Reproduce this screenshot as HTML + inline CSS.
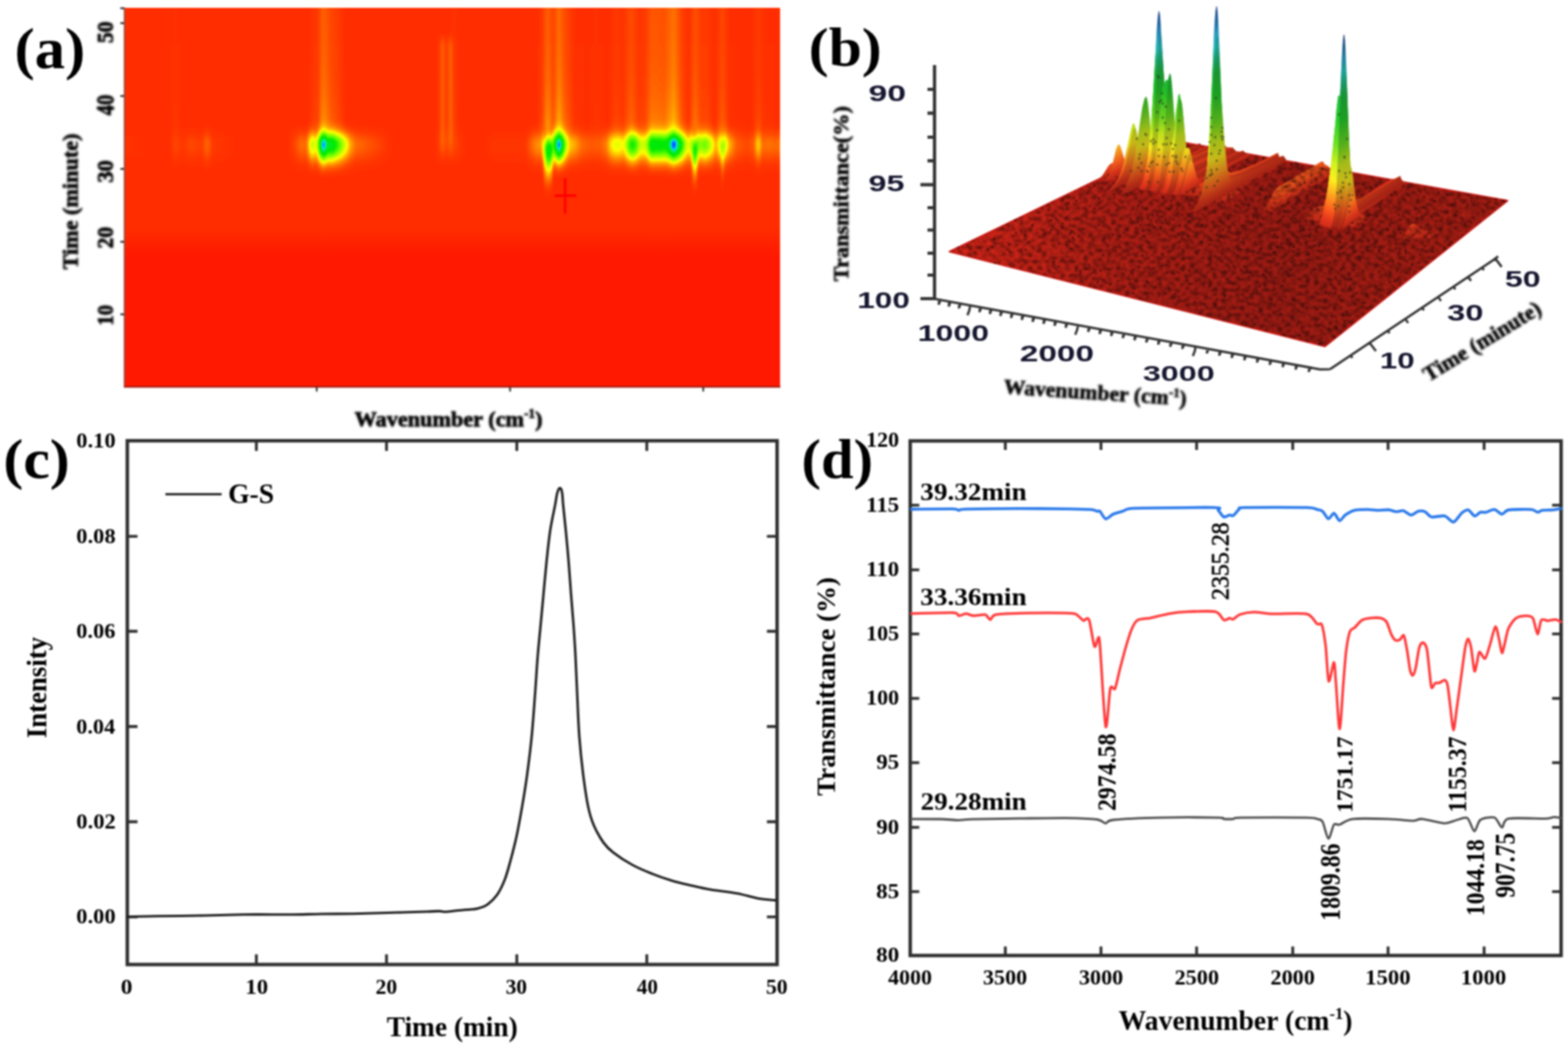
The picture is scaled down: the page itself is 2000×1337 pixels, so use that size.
<!DOCTYPE html>
<html lang="en"><head><meta charset="utf-8"><title>TG-FTIR figure</title>
<style>
html,body{margin:0;padding:0;background:#fff;}
body{width:2000px;height:1337px;overflow:hidden;}
svg{display:block;}
text{white-space:pre;}
</style></head>
<body>
<svg width="2000" height="1337" viewBox="0 0 2000 1337">
<defs><filter id="soft" filterUnits="userSpaceOnUse" x="0" y="0" width="2000" height="1337" color-interpolation-filters="sRGB"><feGaussianBlur stdDeviation="0.85"/></filter><filter id="soft2" x="-5%" y="-5%" width="110%" height="110%"><feGaussianBlur stdDeviation="0.8"/></filter></defs>
<rect width="2000" height="1337" fill="#fff"/>
<g filter="url(#soft)">
<rect width="2000" height="1337" fill="#fff"/>
<defs><linearGradient id="aR" gradientUnits="userSpaceOnUse" x1="159.0" y1="0" x2="995.0" y2="0"><stop offset="0.0013" stop-color="#010101"/><stop offset="0.0676" stop-color="#000000"/><stop offset="0.0688" stop-color="#000000"/><stop offset="0.0773" stop-color="#060606"/><stop offset="0.0881" stop-color="#020202"/><stop offset="0.1002" stop-color="#060606"/><stop offset="0.1170" stop-color="#040404"/><stop offset="0.1182" stop-color="#040404"/><stop offset="0.1255" stop-color="#0e0e0e"/><stop offset="0.1327" stop-color="#050505"/><stop offset="0.1339" stop-color="#030303"/><stop offset="0.1737" stop-color="#000000"/><stop offset="0.2484" stop-color="#000000"/><stop offset="0.2593" stop-color="#050505"/><stop offset="0.2689" stop-color="#0f0f0f"/><stop offset="0.2773" stop-color="#0d0d0d"/><stop offset="0.2858" stop-color="#444444"/><stop offset="0.2906" stop-color="#363636"/><stop offset="0.2918" stop-color="#353535"/><stop offset="0.2942" stop-color="#424242"/><stop offset="0.3026" stop-color="#e1e1e1"/><stop offset="0.3039" stop-color="#dfdfdf"/><stop offset="0.3099" stop-color="#9d9d9d"/><stop offset="0.3111" stop-color="#9a9a9a"/><stop offset="0.3171" stop-color="#9a9a9a"/><stop offset="0.3183" stop-color="#959595"/><stop offset="0.3256" stop-color="#6f6f6f"/><stop offset="0.3340" stop-color="#464646"/><stop offset="0.3364" stop-color="#3c3c3c"/><stop offset="0.3424" stop-color="#242424"/><stop offset="0.3436" stop-color="#1f1f1f"/><stop offset="0.3521" stop-color="#0f0f0f"/><stop offset="0.3774" stop-color="#080808"/><stop offset="0.4027" stop-color="#010101"/><stop offset="0.4147" stop-color="#000000"/><stop offset="0.4738" stop-color="#000000"/><stop offset="0.4847" stop-color="#040404"/><stop offset="0.4943" stop-color="#030303"/><stop offset="0.5003" stop-color="#040404"/><stop offset="0.5064" stop-color="#040404"/><stop offset="0.5112" stop-color="#020202"/><stop offset="0.5244" stop-color="#000000"/><stop offset="0.5473" stop-color="#000000"/><stop offset="0.5630" stop-color="#020202"/><stop offset="0.6112" stop-color="#020202"/><stop offset="0.6136" stop-color="#040404"/><stop offset="0.6281" stop-color="#161616"/><stop offset="0.6353" stop-color="#181818"/><stop offset="0.6377" stop-color="#2a2a2a"/><stop offset="0.6389" stop-color="#1e1e1e"/><stop offset="0.6401" stop-color="#010101"/><stop offset="0.6438" stop-color="#000000"/><stop offset="0.6510" stop-color="#000000"/><stop offset="0.6522" stop-color="#1f1f1f"/><stop offset="0.6534" stop-color="#525252"/><stop offset="0.6546" stop-color="#6d6d6d"/><stop offset="0.6570" stop-color="#8f8f8f"/><stop offset="0.6618" stop-color="#dfdfdf"/><stop offset="0.6630" stop-color="#e7e7e7"/><stop offset="0.6679" stop-color="#999999"/><stop offset="0.6715" stop-color="#606060"/><stop offset="0.6727" stop-color="#4e4e4e"/><stop offset="0.6775" stop-color="#2d2d2d"/><stop offset="0.6787" stop-color="#252525"/><stop offset="0.6872" stop-color="#1c1c1c"/><stop offset="0.6968" stop-color="#0f0f0f"/><stop offset="0.7004" stop-color="#0d0d0d"/><stop offset="0.7125" stop-color="#0a0a0a"/><stop offset="0.7257" stop-color="#0b0b0b"/><stop offset="0.7342" stop-color="#121212"/><stop offset="0.7354" stop-color="#141414"/><stop offset="0.7414" stop-color="#292929"/><stop offset="0.7426" stop-color="#2c2c2c"/><stop offset="0.7474" stop-color="#363636"/><stop offset="0.7486" stop-color="#373737"/><stop offset="0.7547" stop-color="#373737"/><stop offset="0.7583" stop-color="#323232"/><stop offset="0.7607" stop-color="#2f2f2f"/><stop offset="0.7619" stop-color="#313131"/><stop offset="0.7667" stop-color="#4f4f4f"/><stop offset="0.7703" stop-color="#6f6f6f"/><stop offset="0.7715" stop-color="#767676"/><stop offset="0.7751" stop-color="#808080"/><stop offset="0.7788" stop-color="#737373"/><stop offset="0.7800" stop-color="#6e6e6e"/><stop offset="0.7848" stop-color="#4a4a4a"/><stop offset="0.7860" stop-color="#454545"/><stop offset="0.7908" stop-color="#3d3d3d"/><stop offset="0.7920" stop-color="#3f3f3f"/><stop offset="0.7968" stop-color="#4a4a4a"/><stop offset="0.8005" stop-color="#737373"/><stop offset="0.8017" stop-color="#808080"/><stop offset="0.8041" stop-color="#989898"/><stop offset="0.8101" stop-color="#8f8f8f"/><stop offset="0.8161" stop-color="#8f8f8f"/><stop offset="0.8234" stop-color="#8a8a8a"/><stop offset="0.8246" stop-color="#8a8a8a"/><stop offset="0.8282" stop-color="#929292"/><stop offset="0.8294" stop-color="#9b9b9b"/><stop offset="0.8330" stop-color="#c1c1c1"/><stop offset="0.8378" stop-color="#efefef"/><stop offset="0.8426" stop-color="#c4c4c4"/><stop offset="0.8559" stop-color="#464646"/><stop offset="0.8595" stop-color="#383838"/><stop offset="0.8607" stop-color="#363636"/><stop offset="0.8643" stop-color="#454545"/><stop offset="0.8655" stop-color="#363636"/><stop offset="0.8667" stop-color="#1c1c1c"/><stop offset="0.8680" stop-color="#000000"/><stop offset="0.8716" stop-color="#000000"/><stop offset="0.8728" stop-color="#1d1d1d"/><stop offset="0.8740" stop-color="#424242"/><stop offset="0.8752" stop-color="#5e5e5e"/><stop offset="0.8776" stop-color="#505050"/><stop offset="0.8860" stop-color="#5d5d5d"/><stop offset="0.8872" stop-color="#5a5a5a"/><stop offset="0.8933" stop-color="#434343"/><stop offset="0.9017" stop-color="#1e1e1e"/><stop offset="0.9029" stop-color="#1f1f1f"/><stop offset="0.9077" stop-color="#363636"/><stop offset="0.9089" stop-color="#3d3d3d"/><stop offset="0.9101" stop-color="#363636"/><stop offset="0.9113" stop-color="#282828"/><stop offset="0.9125" stop-color="#1e1e1e"/><stop offset="0.9138" stop-color="#313131"/><stop offset="0.9150" stop-color="#404040"/><stop offset="0.9162" stop-color="#404040"/><stop offset="0.9222" stop-color="#202020"/><stop offset="0.9330" stop-color="#0c0c0c"/><stop offset="0.9342" stop-color="#0b0b0b"/><stop offset="0.9499" stop-color="#060606"/><stop offset="0.9596" stop-color="#0b0b0b"/><stop offset="0.9608" stop-color="#0f0f0f"/><stop offset="0.9668" stop-color="#2a2a2a"/><stop offset="0.9680" stop-color="#262626"/><stop offset="0.9728" stop-color="#0e0e0e"/><stop offset="0.9837" stop-color="#101010"/><stop offset="0.9945" stop-color="#0d0d0d"/><stop offset="1.0029" stop-color="#121212"/></linearGradient><linearGradient id="aE" gradientUnits="userSpaceOnUse" x1="159.0" y1="0" x2="995.0" y2="0"><stop offset="0.0013" stop-color="#000000"/><stop offset="0.6377" stop-color="#000000"/><stop offset="0.6389" stop-color="#181818"/><stop offset="0.6401" stop-color="#434343"/><stop offset="0.6413" stop-color="#505050"/><stop offset="0.6450" stop-color="#8f8f8f"/><stop offset="0.6462" stop-color="#9f9f9f"/><stop offset="0.6510" stop-color="#848484"/><stop offset="0.6522" stop-color="#5b5b5b"/><stop offset="0.6534" stop-color="#191919"/><stop offset="0.6546" stop-color="#000000"/><stop offset="0.8643" stop-color="#000000"/><stop offset="0.8655" stop-color="#1c1c1c"/><stop offset="0.8667" stop-color="#464646"/><stop offset="0.8680" stop-color="#737373"/><stop offset="0.8692" stop-color="#808080"/><stop offset="0.8704" stop-color="#868686"/><stop offset="0.8716" stop-color="#808080"/><stop offset="0.8728" stop-color="#5a5a5a"/><stop offset="0.8740" stop-color="#292929"/><stop offset="0.8752" stop-color="#000000"/><stop offset="0.9089" stop-color="#000000"/><stop offset="0.9101" stop-color="#101010"/><stop offset="0.9113" stop-color="#292929"/><stop offset="0.9125" stop-color="#3a3a3a"/><stop offset="0.9138" stop-color="#1e1e1e"/><stop offset="0.9150" stop-color="#060606"/><stop offset="0.9162" stop-color="#000000"/><stop offset="1.0029" stop-color="#000000"/></linearGradient><linearGradient id="aG" gradientUnits="userSpaceOnUse" x1="159.0" y1="0" x2="995.0" y2="0"><stop offset="0.0013" stop-color="#000000"/><stop offset="0.6377" stop-color="#000000"/><stop offset="0.6389" stop-color="#020202"/><stop offset="0.6401" stop-color="#080808"/><stop offset="0.6450" stop-color="#101010"/><stop offset="0.6462" stop-color="#101010"/><stop offset="0.6510" stop-color="#090909"/><stop offset="0.6534" stop-color="#010101"/><stop offset="0.6546" stop-color="#000000"/><stop offset="0.8643" stop-color="#000000"/><stop offset="0.8655" stop-color="#020202"/><stop offset="0.8680" stop-color="#080808"/><stop offset="0.8692" stop-color="#090909"/><stop offset="0.8704" stop-color="#0a0a0a"/><stop offset="0.8716" stop-color="#080808"/><stop offset="0.8740" stop-color="#020202"/><stop offset="0.8752" stop-color="#000000"/><stop offset="0.9089" stop-color="#000000"/><stop offset="0.9101" stop-color="#010101"/><stop offset="0.9125" stop-color="#040404"/><stop offset="0.9150" stop-color="#000000"/><stop offset="1.0029" stop-color="#000000"/></linearGradient><linearGradient id="aL" gradientUnits="userSpaceOnUse" x1="159.0" y1="0" x2="995.0" y2="0"><stop offset="0.0025" stop-color="#000000"/><stop offset="0.0676" stop-color="#000000"/><stop offset="0.0773" stop-color="#020202"/><stop offset="0.0881" stop-color="#000000"/><stop offset="0.2797" stop-color="#000000"/><stop offset="0.2900" stop-color="#050505"/><stop offset="0.2942" stop-color="#050505"/><stop offset="0.3030" stop-color="#1a1a1a"/><stop offset="0.3145" stop-color="#0d0d0d"/><stop offset="0.3289" stop-color="#050505"/><stop offset="0.3376" stop-color="#000000"/><stop offset="0.4955" stop-color="#000000"/><stop offset="0.4991" stop-color="#020202"/><stop offset="0.5051" stop-color="#020202"/><stop offset="0.5078" stop-color="#000000"/><stop offset="0.6281" stop-color="#000000"/><stop offset="0.6365" stop-color="#050505"/><stop offset="0.6454" stop-color="#1a1a1a"/><stop offset="0.6540" stop-color="#0a0a0a"/><stop offset="0.6627" stop-color="#202020"/><stop offset="0.6714" stop-color="#0f0f0f"/><stop offset="0.6858" stop-color="#020202"/><stop offset="0.7060" stop-color="#000000"/><stop offset="0.7197" stop-color="#020202"/><stop offset="0.7378" stop-color="#000000"/><stop offset="0.7492" stop-color="#060606"/><stop offset="0.7607" stop-color="#030303"/><stop offset="0.7724" stop-color="#0f0f0f"/><stop offset="0.7836" stop-color="#050505"/><stop offset="0.7939" stop-color="#060606"/><stop offset="0.8041" stop-color="#151515"/><stop offset="0.8243" stop-color="#121212"/><stop offset="0.8378" stop-color="#232323"/><stop offset="0.8502" stop-color="#0a0a0a"/><stop offset="0.8604" stop-color="#010101"/><stop offset="0.8704" stop-color="#121212"/><stop offset="0.8790" stop-color="#070707"/><stop offset="0.8877" stop-color="#070707"/><stop offset="0.9007" stop-color="#000000"/><stop offset="0.9123" stop-color="#0d0d0d"/><stop offset="0.9222" stop-color="#010101"/><stop offset="0.9570" stop-color="#000000"/><stop offset="0.9670" stop-color="#070707"/><stop offset="0.9743" stop-color="#020202"/><stop offset="0.9887" stop-color="#010101"/><stop offset="1.0032" stop-color="#000000"/></linearGradient><linearGradient id="aC" gradientUnits="userSpaceOnUse" x1="159.0" y1="0" x2="995.0" y2="0"><stop offset="0.0013" stop-color="#000000"/><stop offset="0.4702" stop-color="#000000"/><stop offset="0.4774" stop-color="#010101"/><stop offset="0.4786" stop-color="#020202"/><stop offset="0.4798" stop-color="#020202"/><stop offset="0.4810" stop-color="#040404"/><stop offset="0.4834" stop-color="#0b0b0b"/><stop offset="0.4847" stop-color="#0c0c0c"/><stop offset="0.4859" stop-color="#0b0b0b"/><stop offset="0.4871" stop-color="#080808"/><stop offset="0.4883" stop-color="#060606"/><stop offset="0.4895" stop-color="#050505"/><stop offset="0.4919" stop-color="#050505"/><stop offset="0.4931" stop-color="#060606"/><stop offset="0.4943" stop-color="#070707"/><stop offset="0.4967" stop-color="#0c0c0c"/><stop offset="0.4979" stop-color="#0c0c0c"/><stop offset="0.4991" stop-color="#090909"/><stop offset="0.5003" stop-color="#060606"/><stop offset="0.5015" stop-color="#030303"/><stop offset="0.5027" stop-color="#020202"/><stop offset="0.5064" stop-color="#010101"/><stop offset="0.5160" stop-color="#000000"/><stop offset="1.0029" stop-color="#000000"/></linearGradient><linearGradient id="wR" gradientUnits="userSpaceOnUse" x1="0" y1="10.0" x2="0" y2="493.0"><stop offset="0.0000" stop-color="#000" stop-opacity="1.000"/><stop offset="0.2940" stop-color="#000" stop-opacity="1.000"/><stop offset="0.3002" stop-color="#000" stop-opacity="0.992"/><stop offset="0.3064" stop-color="#000" stop-opacity="0.974"/><stop offset="0.3106" stop-color="#000" stop-opacity="0.953"/><stop offset="0.3147" stop-color="#000" stop-opacity="0.921"/><stop offset="0.3168" stop-color="#000" stop-opacity="0.901"/><stop offset="0.3188" stop-color="#000" stop-opacity="0.877"/><stop offset="0.3209" stop-color="#000" stop-opacity="0.849"/><stop offset="0.3230" stop-color="#000" stop-opacity="0.816"/><stop offset="0.3251" stop-color="#000" stop-opacity="0.780"/><stop offset="0.3271" stop-color="#000" stop-opacity="0.738"/><stop offset="0.3292" stop-color="#000" stop-opacity="0.693"/><stop offset="0.3313" stop-color="#000" stop-opacity="0.643"/><stop offset="0.3333" stop-color="#000" stop-opacity="0.590"/><stop offset="0.3375" stop-color="#000" stop-opacity="0.474"/><stop offset="0.3437" stop-color="#000" stop-opacity="0.294"/><stop offset="0.3458" stop-color="#000" stop-opacity="0.236"/><stop offset="0.3478" stop-color="#000" stop-opacity="0.182"/><stop offset="0.3499" stop-color="#000" stop-opacity="0.133"/><stop offset="0.3520" stop-color="#000" stop-opacity="0.090"/><stop offset="0.3540" stop-color="#000" stop-opacity="0.054"/><stop offset="0.3561" stop-color="#000" stop-opacity="0.027"/><stop offset="0.3582" stop-color="#000" stop-opacity="0.009"/><stop offset="0.3602" stop-color="#000" stop-opacity="0.001"/><stop offset="0.3623" stop-color="#000" stop-opacity="0.001"/><stop offset="0.3644" stop-color="#000" stop-opacity="0.008"/><stop offset="0.3665" stop-color="#000" stop-opacity="0.019"/><stop offset="0.3685" stop-color="#000" stop-opacity="0.036"/><stop offset="0.3706" stop-color="#000" stop-opacity="0.058"/><stop offset="0.3727" stop-color="#000" stop-opacity="0.085"/><stop offset="0.3747" stop-color="#000" stop-opacity="0.115"/><stop offset="0.3768" stop-color="#000" stop-opacity="0.150"/><stop offset="0.3810" stop-color="#000" stop-opacity="0.227"/><stop offset="0.3872" stop-color="#000" stop-opacity="0.358"/><stop offset="0.3954" stop-color="#000" stop-opacity="0.537"/><stop offset="0.3996" stop-color="#000" stop-opacity="0.620"/><stop offset="0.4037" stop-color="#000" stop-opacity="0.695"/><stop offset="0.4079" stop-color="#000" stop-opacity="0.761"/><stop offset="0.4120" stop-color="#000" stop-opacity="0.817"/><stop offset="0.4161" stop-color="#000" stop-opacity="0.863"/><stop offset="0.4203" stop-color="#000" stop-opacity="0.901"/><stop offset="0.4244" stop-color="#000" stop-opacity="0.930"/><stop offset="0.4286" stop-color="#000" stop-opacity="0.952"/><stop offset="0.4348" stop-color="#000" stop-opacity="0.975"/><stop offset="0.4410" stop-color="#000" stop-opacity="0.989"/><stop offset="0.4493" stop-color="#000" stop-opacity="0.999"/><stop offset="1.0000" stop-color="#000" stop-opacity="1.000"/></linearGradient><linearGradient id="wE" gradientUnits="userSpaceOnUse" x1="0" y1="10.0" x2="0" y2="493.0"><stop offset="0.0000" stop-color="#000" stop-opacity="1.000"/><stop offset="0.3064" stop-color="#000" stop-opacity="0.999"/><stop offset="0.3126" stop-color="#000" stop-opacity="0.990"/><stop offset="0.3168" stop-color="#000" stop-opacity="0.978"/><stop offset="0.3209" stop-color="#000" stop-opacity="0.960"/><stop offset="0.3251" stop-color="#000" stop-opacity="0.932"/><stop offset="0.3271" stop-color="#000" stop-opacity="0.914"/><stop offset="0.3292" stop-color="#000" stop-opacity="0.893"/><stop offset="0.3313" stop-color="#000" stop-opacity="0.868"/><stop offset="0.3333" stop-color="#000" stop-opacity="0.839"/><stop offset="0.3354" stop-color="#000" stop-opacity="0.806"/><stop offset="0.3375" stop-color="#000" stop-opacity="0.769"/><stop offset="0.3395" stop-color="#000" stop-opacity="0.727"/><stop offset="0.3416" stop-color="#000" stop-opacity="0.682"/><stop offset="0.3437" stop-color="#000" stop-opacity="0.632"/><stop offset="0.3478" stop-color="#000" stop-opacity="0.523"/><stop offset="0.3561" stop-color="#000" stop-opacity="0.287"/><stop offset="0.3582" stop-color="#000" stop-opacity="0.231"/><stop offset="0.3602" stop-color="#000" stop-opacity="0.178"/><stop offset="0.3623" stop-color="#000" stop-opacity="0.130"/><stop offset="0.3644" stop-color="#000" stop-opacity="0.088"/><stop offset="0.3665" stop-color="#000" stop-opacity="0.054"/><stop offset="0.3685" stop-color="#000" stop-opacity="0.027"/><stop offset="0.3706" stop-color="#000" stop-opacity="0.009"/><stop offset="0.3727" stop-color="#000" stop-opacity="0.001"/><stop offset="0.3747" stop-color="#000" stop-opacity="0.001"/><stop offset="0.3768" stop-color="#000" stop-opacity="0.005"/><stop offset="0.3789" stop-color="#000" stop-opacity="0.014"/><stop offset="0.3810" stop-color="#000" stop-opacity="0.026"/><stop offset="0.3830" stop-color="#000" stop-opacity="0.042"/><stop offset="0.3851" stop-color="#000" stop-opacity="0.061"/><stop offset="0.3872" stop-color="#000" stop-opacity="0.084"/><stop offset="0.3913" stop-color="#000" stop-opacity="0.139"/><stop offset="0.3954" stop-color="#000" stop-opacity="0.203"/><stop offset="0.4017" stop-color="#000" stop-opacity="0.311"/><stop offset="0.4141" stop-color="#000" stop-opacity="0.540"/><stop offset="0.4203" stop-color="#000" stop-opacity="0.644"/><stop offset="0.4244" stop-color="#000" stop-opacity="0.706"/><stop offset="0.4286" stop-color="#000" stop-opacity="0.762"/><stop offset="0.4327" stop-color="#000" stop-opacity="0.810"/><stop offset="0.4369" stop-color="#000" stop-opacity="0.852"/><stop offset="0.4410" stop-color="#000" stop-opacity="0.886"/><stop offset="0.4472" stop-color="#000" stop-opacity="0.926"/><stop offset="0.4534" stop-color="#000" stop-opacity="0.955"/><stop offset="0.4596" stop-color="#000" stop-opacity="0.974"/><stop offset="0.4679" stop-color="#000" stop-opacity="0.990"/><stop offset="0.4783" stop-color="#000" stop-opacity="1.000"/><stop offset="1.0000" stop-color="#000" stop-opacity="1.000"/></linearGradient><linearGradient id="wG" gradientUnits="userSpaceOnUse" x1="0" y1="10.0" x2="0" y2="493.0"><stop offset="0.0000" stop-color="#000" stop-opacity="1.000"/><stop offset="0.3458" stop-color="#000" stop-opacity="0.999"/><stop offset="0.3561" stop-color="#000" stop-opacity="0.986"/><stop offset="0.3623" stop-color="#000" stop-opacity="0.971"/><stop offset="0.3685" stop-color="#000" stop-opacity="0.946"/><stop offset="0.3727" stop-color="#000" stop-opacity="0.922"/><stop offset="0.3768" stop-color="#000" stop-opacity="0.891"/><stop offset="0.3810" stop-color="#000" stop-opacity="0.853"/><stop offset="0.3851" stop-color="#000" stop-opacity="0.806"/><stop offset="0.3892" stop-color="#000" stop-opacity="0.750"/><stop offset="0.3934" stop-color="#000" stop-opacity="0.685"/><stop offset="0.3975" stop-color="#000" stop-opacity="0.611"/><stop offset="0.4037" stop-color="#000" stop-opacity="0.488"/><stop offset="0.4141" stop-color="#000" stop-opacity="0.272"/><stop offset="0.4182" stop-color="#000" stop-opacity="0.192"/><stop offset="0.4224" stop-color="#000" stop-opacity="0.122"/><stop offset="0.4244" stop-color="#000" stop-opacity="0.091"/><stop offset="0.4265" stop-color="#000" stop-opacity="0.065"/><stop offset="0.4286" stop-color="#000" stop-opacity="0.042"/><stop offset="0.4306" stop-color="#000" stop-opacity="0.024"/><stop offset="0.4327" stop-color="#000" stop-opacity="0.011"/><stop offset="0.4348" stop-color="#000" stop-opacity="0.003"/><stop offset="0.4369" stop-color="#000" stop-opacity="0.000"/><stop offset="0.4389" stop-color="#000" stop-opacity="0.003"/><stop offset="0.4410" stop-color="#000" stop-opacity="0.013"/><stop offset="0.4431" stop-color="#000" stop-opacity="0.029"/><stop offset="0.4451" stop-color="#000" stop-opacity="0.052"/><stop offset="0.4472" stop-color="#000" stop-opacity="0.080"/><stop offset="0.4493" stop-color="#000" stop-opacity="0.114"/><stop offset="0.4513" stop-color="#000" stop-opacity="0.152"/><stop offset="0.4534" stop-color="#000" stop-opacity="0.194"/><stop offset="0.4576" stop-color="#000" stop-opacity="0.288"/><stop offset="0.4679" stop-color="#000" stop-opacity="0.536"/><stop offset="0.4720" stop-color="#000" stop-opacity="0.628"/><stop offset="0.4762" stop-color="#000" stop-opacity="0.710"/><stop offset="0.4783" stop-color="#000" stop-opacity="0.747"/><stop offset="0.4803" stop-color="#000" stop-opacity="0.781"/><stop offset="0.4824" stop-color="#000" stop-opacity="0.812"/><stop offset="0.4865" stop-color="#000" stop-opacity="0.864"/><stop offset="0.4907" stop-color="#000" stop-opacity="0.905"/><stop offset="0.4948" stop-color="#000" stop-opacity="0.936"/><stop offset="0.4990" stop-color="#000" stop-opacity="0.959"/><stop offset="0.5052" stop-color="#000" stop-opacity="0.981"/><stop offset="0.5114" stop-color="#000" stop-opacity="0.994"/><stop offset="0.5176" stop-color="#000" stop-opacity="1.000"/><stop offset="1.0000" stop-color="#000" stop-opacity="1.000"/></linearGradient><linearGradient id="wL" gradientUnits="userSpaceOnUse" x1="0" y1="10.0" x2="0" y2="493.0"><stop offset="0.0000" stop-color="#000" stop-opacity="0.539"/><stop offset="0.0600" stop-color="#000" stop-opacity="0.520"/><stop offset="0.1056" stop-color="#000" stop-opacity="0.496"/><stop offset="0.1429" stop-color="#000" stop-opacity="0.465"/><stop offset="0.1739" stop-color="#000" stop-opacity="0.429"/><stop offset="0.2008" stop-color="#000" stop-opacity="0.387"/><stop offset="0.2236" stop-color="#000" stop-opacity="0.341"/><stop offset="0.2443" stop-color="#000" stop-opacity="0.288"/><stop offset="0.2629" stop-color="#000" stop-opacity="0.230"/><stop offset="0.2795" stop-color="#000" stop-opacity="0.168"/><stop offset="0.2940" stop-color="#000" stop-opacity="0.104"/><stop offset="0.3023" stop-color="#000" stop-opacity="0.065"/><stop offset="0.3043" stop-color="#000" stop-opacity="0.062"/><stop offset="0.3064" stop-color="#000" stop-opacity="0.063"/><stop offset="0.3085" stop-color="#000" stop-opacity="0.069"/><stop offset="0.3106" stop-color="#000" stop-opacity="0.083"/><stop offset="0.3126" stop-color="#000" stop-opacity="0.108"/><stop offset="0.3147" stop-color="#000" stop-opacity="0.137"/><stop offset="0.3188" stop-color="#000" stop-opacity="0.204"/><stop offset="0.3230" stop-color="#000" stop-opacity="0.281"/><stop offset="0.3292" stop-color="#000" stop-opacity="0.409"/><stop offset="0.3416" stop-color="#000" stop-opacity="0.678"/><stop offset="0.3458" stop-color="#000" stop-opacity="0.761"/><stop offset="0.3499" stop-color="#000" stop-opacity="0.836"/><stop offset="0.3540" stop-color="#000" stop-opacity="0.901"/><stop offset="0.3561" stop-color="#000" stop-opacity="0.929"/><stop offset="0.3582" stop-color="#000" stop-opacity="0.953"/><stop offset="0.3602" stop-color="#000" stop-opacity="0.973"/><stop offset="0.3623" stop-color="#000" stop-opacity="0.988"/><stop offset="0.3644" stop-color="#000" stop-opacity="0.999"/><stop offset="1.0000" stop-color="#000" stop-opacity="1.000"/></linearGradient><linearGradient id="wC" gradientUnits="userSpaceOnUse" x1="0" y1="10.0" x2="0" y2="493.0"><stop offset="0.0000" stop-color="#000" stop-opacity="1.000"/><stop offset="0.0600" stop-color="#000" stop-opacity="1.000"/><stop offset="0.0621" stop-color="#000" stop-opacity="0.998"/><stop offset="0.0642" stop-color="#000" stop-opacity="0.981"/><stop offset="0.0663" stop-color="#000" stop-opacity="0.954"/><stop offset="0.0683" stop-color="#000" stop-opacity="0.919"/><stop offset="0.0704" stop-color="#000" stop-opacity="0.878"/><stop offset="0.0725" stop-color="#000" stop-opacity="0.830"/><stop offset="0.0745" stop-color="#000" stop-opacity="0.776"/><stop offset="0.0766" stop-color="#000" stop-opacity="0.719"/><stop offset="0.0807" stop-color="#000" stop-opacity="0.595"/><stop offset="0.0890" stop-color="#000" stop-opacity="0.339"/><stop offset="0.0911" stop-color="#000" stop-opacity="0.278"/><stop offset="0.0932" stop-color="#000" stop-opacity="0.221"/><stop offset="0.0952" stop-color="#000" stop-opacity="0.169"/><stop offset="0.0973" stop-color="#000" stop-opacity="0.122"/><stop offset="0.0994" stop-color="#000" stop-opacity="0.081"/><stop offset="0.1014" stop-color="#000" stop-opacity="0.047"/><stop offset="0.1035" stop-color="#000" stop-opacity="0.022"/><stop offset="0.1056" stop-color="#000" stop-opacity="0.006"/><stop offset="0.1077" stop-color="#000" stop-opacity="0.000"/><stop offset="0.3292" stop-color="#000" stop-opacity="0.000"/><stop offset="0.3313" stop-color="#000" stop-opacity="0.002"/><stop offset="0.3333" stop-color="#000" stop-opacity="0.007"/><stop offset="0.3375" stop-color="#000" stop-opacity="0.026"/><stop offset="0.3416" stop-color="#000" stop-opacity="0.056"/><stop offset="0.3458" stop-color="#000" stop-opacity="0.096"/><stop offset="0.3499" stop-color="#000" stop-opacity="0.145"/><stop offset="0.3540" stop-color="#000" stop-opacity="0.201"/><stop offset="0.3602" stop-color="#000" stop-opacity="0.295"/><stop offset="0.3685" stop-color="#000" stop-opacity="0.434"/><stop offset="0.3810" stop-color="#000" stop-opacity="0.648"/><stop offset="0.3872" stop-color="#000" stop-opacity="0.748"/><stop offset="0.3934" stop-color="#000" stop-opacity="0.838"/><stop offset="0.3975" stop-color="#000" stop-opacity="0.890"/><stop offset="0.4017" stop-color="#000" stop-opacity="0.934"/><stop offset="0.4058" stop-color="#000" stop-opacity="0.969"/><stop offset="0.4099" stop-color="#000" stop-opacity="0.993"/><stop offset="0.4120" stop-color="#000" stop-opacity="1.000"/><stop offset="1.0000" stop-color="#000" stop-opacity="1.000"/></linearGradient><linearGradient id="aB" gradientUnits="userSpaceOnUse" x1="0" y1="10.0" x2="0" y2="493.0"><stop offset="0.0000" stop-color="rgb(0,45,0)"/><stop offset="0.5756" stop-color="rgb(0,45,0)"/><stop offset="0.5880" stop-color="rgb(0,44,0)"/><stop offset="0.6046" stop-color="rgb(0,39,0)"/><stop offset="0.6398" stop-color="rgb(0,29,0)"/><stop offset="0.6542" stop-color="rgb(0,26,0)"/><stop offset="0.6667" stop-color="rgb(0,25,0)"/><stop offset="1.0000" stop-color="rgb(0,25,0)"/></linearGradient><filter id="cm" filterUnits="userSpaceOnUse" x="159.0" y="10.0" width="836.0" height="483.0" color-interpolation-filters="sRGB"><feGaussianBlur stdDeviation="1.1 0.5" result="b"/><feComponentTransfer in="b"><feFuncR type="table" tableValues="1 1 1 1 1 1 1 1 1 1 1 1 1 1 1 1 1 1 1 1 1 1 1 1 1 0.984 0.958 0.931 0.905 0.878 0.852 0.825 0.799 0.772 0.745 0.719 0.692 0.666 0.639 0.613 0.586 0.559 0.533 0.506 0.48 0.456 0.434 0.412 0.391 0.369 0.347 0.326 0.304 0.282 0.261 0.239 0.218 0.196 0.174 0.153 0.131 0.109 0.088 0.066 0.054 0.042 0.03 0.018 0.006 0 0 0 0 0 0 0 0 0 0 0 0 0 0 0 0 0 0 0 0 0 0 0 0 0 0 0 0 0 0 0 0 0 0 0 0 0 0 0 0 0 0 0 0 0 0 0 0 0 0 0 0 0 0 0 0 0 0 0 0"/><feFuncG type="table" tableValues="0 0.034 0.067 0.101 0.135 0.168 0.202 0.236 0.269 0.303 0.337 0.37 0.404 0.437 0.471 0.505 0.538 0.572 0.606 0.639 0.673 0.707 0.74 0.774 0.808 0.822 0.822 0.822 0.822 0.822 0.822 0.822 0.822 0.822 0.822 0.822 0.822 0.822 0.822 0.822 0.822 0.822 0.822 0.822 0.822 0.822 0.822 0.821 0.817 0.812 0.808 0.804 0.8 0.796 0.792 0.788 0.783 0.779 0.775 0.771 0.767 0.763 0.758 0.754 0.752 0.75 0.747 0.745 0.743 0.742 0.742 0.742 0.742 0.742 0.742 0.742 0.742 0.742 0.742 0.742 0.742 0.742 0.742 0.742 0.742 0.742 0.742 0.742 0.742 0.742 0.742 0.742 0.742 0.742 0.742 0.742 0.742 0.742 0.742 0.742 0.742 0.734 0.67 0.616 0.566 0.517 0.467 0.417 0.368 0.318 0.268 0.234 0.207 0.18 0.153 0.127 0.1 0.073 0.047 0.029 0.018 0.006 0 0 0 0 0 0 0"/><feFuncB type="table" tableValues="0 0 0 0 0 0 0 0 0 0 0 0 0 0 0 0 0 0 0 0 0 0 0 0 0 0 0 0 0 0 0 0 0 0 0 0 0 0 0 0 0 0 0 0 0 0 0 0 0 0 0 0 0 0 0 0 0 0 0 0 0 0 0 0 0 0 0 0 0 0.006 0.018 0.03 0.042 0.054 0.066 0.078 0.09 0.102 0.114 0.134 0.156 0.177 0.199 0.221 0.243 0.265 0.287 0.309 0.331 0.353 0.375 0.396 0.418 0.455 0.525 0.594 0.663 0.732 0.801 0.87 0.94 1 1 1 1 1 1 1 1 1 1 1 1 1 1 1 1 1 1 1 1 1 1 1 1 1 1 1 1"/><feFuncA type="linear" slope="0" intercept="1"/></feComponentTransfer></filter></defs>
<rect x="159.0" y="10.0" width="836.0" height="483.0" fill="#ff2600"/>
<g style="isolation:isolate"><g filter="url(#cm)" style="isolation:isolate"><rect x="153.0" y="4.0" width="848.0" height="495.0" fill="#000"/><g style="mix-blend-mode:plus-lighter"><rect x="153.0" y="4.0" width="848.0" height="495.0" fill="url(#aR)"/><rect x="153.0" y="4.0" width="848.0" height="495.0" fill="url(#wR)"/></g><g style="mix-blend-mode:plus-lighter"><rect x="153.0" y="4.0" width="848.0" height="495.0" fill="url(#aE)"/><rect x="153.0" y="4.0" width="848.0" height="495.0" fill="url(#wE)"/></g><g style="mix-blend-mode:plus-lighter"><rect x="153.0" y="4.0" width="848.0" height="495.0" fill="url(#aG)"/><rect x="153.0" y="4.0" width="848.0" height="495.0" fill="url(#wG)"/></g><g style="mix-blend-mode:plus-lighter"><rect x="153.0" y="4.0" width="848.0" height="495.0" fill="url(#aL)"/><rect x="153.0" y="4.0" width="848.0" height="495.0" fill="url(#wL)"/></g><g style="mix-blend-mode:plus-lighter"><rect x="153.0" y="4.0" width="848.0" height="495.0" fill="url(#aC)"/><rect x="153.0" y="4.0" width="848.0" height="495.0" fill="url(#wC)"/></g></g><rect x="159.0" y="10.0" width="836.0" height="483.0" fill="url(#aB)" style="mix-blend-mode:plus-lighter"/></g>
<path d="M720.8 227.5V272.5M707.5 249.6H735" stroke="#ff0000" stroke-width="3.2" fill="none"/>
<path d="M158.6 9.5V493.5" stroke="#8a5a50" stroke-width="1.6" fill="none"/>
<path d="M158 493.4H995.4" stroke="#a01408" stroke-width="2" fill="none"/>
<path d="M153.5 10.5H158.5M153.5 29.5H158.5M153.5 122.5H158.5M153.5 215.5H158.5M153.5 308.5H158.5M153.5 401H158.5M404 494V499.5M650.6 494V499.5M897 494V499.5" stroke="#3a3a3a" stroke-width="2.3" fill="none"/>
<g filter="url(#soft2)" stroke="#000" stroke-width="3.2" stroke-linejoin="round">
<text transform="matrix(0.0000 -0.2774 0.2985 0.0000 144.30 55.01)" font-family='"Liberation Serif", serif' font-weight="bold" font-size="100" fill="#000">50</text>
<text transform="matrix(0.0000 -0.2635 0.3059 0.0000 144.79 147.16)" font-family='"Liberation Serif", serif' font-weight="bold" font-size="100" fill="#000">40</text>
<text transform="matrix(0.0000 -0.2883 0.2838 0.0000 144.33 233.06)" font-family='"Liberation Serif", serif' font-weight="bold" font-size="100" fill="#000">30</text>
<text transform="matrix(0.0000 -0.2774 0.2838 0.0000 144.33 317.01)" font-family='"Liberation Serif", serif' font-weight="bold" font-size="100" fill="#000">20</text>
<text transform="matrix(0.0000 -0.2674 0.2838 0.0000 144.33 415.54)" font-family='"Liberation Serif", serif' font-weight="bold" font-size="100" fill="#000">10</text>
<text transform="matrix(0.0000 -0.2832 0.2641 0.0000 99.09 343.68)" font-family='"Liberation Serif", serif' font-weight="bold" font-size="100" fill="#000">Time (minute)</text>
<text transform="translate(452.32 544.20) rotate(0) scale(0.2836)" font-family='"Liberation Serif", serif' font-weight="bold" font-size="100" fill="#000">Wavenumber (cm<tspan font-size="60" dy="-38">-1</tspan><tspan dy="38">)</tspan></text>
</g>
<text transform="matrix(0.7738 0.0000 0.0000 0.7304 18.50 87.33)" font-family='"Liberation Serif", serif' font-weight="bold" font-size="100" fill="#000">(a)</text>
<defs><linearGradient id="g3" gradientUnits="userSpaceOnUse" x1="0" y1="0" x2="0" y2="160"><stop offset="0.000" stop-color="#c22818"/><stop offset="0.031" stop-color="#d8381a"/><stop offset="0.075" stop-color="#ee5c1c"/><stop offset="0.138" stop-color="#f29a1e"/><stop offset="0.206" stop-color="#ecdc1e"/><stop offset="0.281" stop-color="#c2e01e"/><stop offset="0.375" stop-color="#66d020"/><stop offset="0.500" stop-color="#22bc28"/><stop offset="0.600" stop-color="#1eb03c"/><stop offset="0.662" stop-color="#20b070"/><stop offset="0.725" stop-color="#28bcb4"/><stop offset="0.787" stop-color="#2a9cc0"/><stop offset="0.850" stop-color="#1f68a0"/><stop offset="0.900" stop-color="#1c4c90"/><stop offset="0.950" stop-color="#2a4cb4"/><stop offset="1.000" stop-color="#4a60d0"/></linearGradient><linearGradient id="g3l" gradientUnits="userSpaceOnUse" x1="0" y1="0" x2="0" y2="160"><stop offset="0.000" stop-color="#d22b1a"/><stop offset="0.031" stop-color="#e93c1c"/><stop offset="0.075" stop-color="#ff631e"/><stop offset="0.138" stop-color="#ffa620"/><stop offset="0.206" stop-color="#ffee20"/><stop offset="0.281" stop-color="#d2f220"/><stop offset="0.375" stop-color="#6ee123"/><stop offset="0.500" stop-color="#25cb2b"/><stop offset="0.600" stop-color="#20be41"/><stop offset="0.662" stop-color="#23be79"/><stop offset="0.725" stop-color="#2bcbc2"/><stop offset="0.787" stop-color="#2da8cf"/><stop offset="0.850" stop-color="#2170ad"/><stop offset="0.900" stop-color="#1e529c"/><stop offset="0.950" stop-color="#2d52c2"/><stop offset="1.000" stop-color="#5068e1"/></linearGradient><linearGradient id="g3d" gradientUnits="userSpaceOnUse" x1="0" y1="0" x2="0" y2="160"><stop offset="0.000" stop-color="#a32214"/><stop offset="0.031" stop-color="#b52f16"/><stop offset="0.075" stop-color="#c84d18"/><stop offset="0.138" stop-color="#cb8119"/><stop offset="0.206" stop-color="#c6b919"/><stop offset="0.281" stop-color="#a3bc19"/><stop offset="0.375" stop-color="#56af1b"/><stop offset="0.500" stop-color="#1d9e22"/><stop offset="0.600" stop-color="#199432"/><stop offset="0.662" stop-color="#1b945e"/><stop offset="0.725" stop-color="#229e97"/><stop offset="0.787" stop-color="#2383a1"/><stop offset="0.850" stop-color="#1a5786"/><stop offset="0.900" stop-color="#184079"/><stop offset="0.950" stop-color="#234097"/><stop offset="1.000" stop-color="#3e51af"/></linearGradient><linearGradient id="pl" gradientUnits="userSpaceOnUse" x1="1230" y1="300" x2="1800" y2="400"><stop offset="0" stop-color="#d82618"/><stop offset=".3" stop-color="#b62016"/><stop offset=".7" stop-color="#a01c14"/><stop offset="1" stop-color="#a81e14"/></linearGradient><filter id="tex" filterUnits="userSpaceOnUse" x="1190" y="160" width="760" height="300" color-interpolation-filters="sRGB"><feTurbulence type="fractalNoise" baseFrequency="0.17 0.22" numOctaves="2" seed="7" result="n"/><feColorMatrix in="n" type="matrix" values="0 0 0 0 0  0 0 0 0 0  0 0 0 0 0  -3.2 0 0 0 1.9" result="c"/><feGaussianBlur in="c" stdDeviation="1.0" result="cb"/><feComposite in="cb" in2="SourceGraphic" operator="in"/></filter></defs>
<path d="M1211.0 321.0L1690.0 442.0L1923.0 256.0L1501.0 180.2Z" fill="url(#pl)" stroke="#d01a14" stroke-width="2" stroke-linejoin="round"/>
<g fill="url(#g3)"><path transform="matrix(27.8 -13.5 0 -1.42 1402.2 228.2)" d="M0.000 0.0L0.164 2.1L0.424 7.7L0.521 8.8L0.618 8.0L0.841 2.5L1.000 0.0Z"/><path transform="matrix(29.6 -14.4 0 -1.43 1403.6 228.5)" d="M0.000 0.0L0.154 2.2L0.399 8.1L0.490 9.2L0.581 8.5L0.821 2.2L1.000 0.0Z"/><path transform="matrix(30.4 -14.8 0 -1.43 1404.9 228.7)" d="M0.000 0.0L0.150 2.3L0.387 8.5L0.476 9.7L0.564 8.9L0.798 2.3L1.000 0.0Z"/><path transform="matrix(31.3 -15.3 0 -1.43 1406.3 229.0)" d="M0.000 0.0L0.146 2.3L0.377 8.6L0.463 9.7L0.548 8.9L0.775 2.4L1.000 0.0Z"/><path transform="matrix(32.2 -15.7 0 -1.43 1407.7 229.3)" d="M0.000 0.0L0.142 2.2L0.366 8.3L0.450 9.4L0.534 8.7L0.699 3.7L0.782 1.9L1.000 0.0Z"/><path transform="matrix(39.9 -19.5 0 -1.43 1409.0 229.6)" d="M0.000 0.0L0.114 2.2L0.295 8.0L0.362 9.1L0.429 8.4L0.563 3.7L0.651 1.6L0.761 0.8L0.978 0.6L1.000 0.0Z"/><path transform="matrix(99.4 -48.7 0 -1.43 1409.5 230.3)" d="M0.000 0.0L0.055 3.8L0.128 14.2L0.155 16.2L0.164 16.2L0.182 15.0L0.253 4.6L0.279 2.7L0.306 2.0L0.497 1.2L0.992 0.8L1.000 0.0Z"/><path transform="matrix(100.2 -49.2 0 -1.43 1411.4 231.3)" d="M0.000 0.0L0.036 1.7L0.064 4.1L0.136 15.1L0.162 17.2L0.171 17.2L0.189 15.9L0.242 7.1L0.260 4.8L0.286 2.8L0.312 2.0L0.501 1.2L0.992 0.8L1.000 0.0Z"/><path transform="matrix(36.4 -17.9 0 -1.43 1415.5 230.2)" d="M0.000 0.0L0.125 2.2L0.298 6.5L0.372 7.4L0.445 6.9L0.664 1.7L0.785 0.8L0.976 0.6L1.000 0.0Z"/><path transform="matrix(25.0 -12.3 0 -1.44 1417.8 230.1)" d="M0.000 0.0L0.397 5.0L0.504 5.7L0.611 5.2L1.000 0.0Z"/><path transform="matrix(24.1 -11.9 0 -1.44 1419.1 230.3)" d="M0.000 0.0L0.412 4.1L0.523 4.6L0.671 3.9L1.000 0.0Z"/><path transform="matrix(22.3 -11.0 0 -1.44 1421.4 230.2)" d="M0.000 0.0L0.364 2.9L0.524 3.6L0.683 3.0L1.000 0.0Z"/><path transform="matrix(23.2 -11.5 0 -1.44 1422.8 230.5)" d="M0.000 0.0L0.350 3.5L0.504 4.3L0.658 3.6L1.000 0.0Z"/><path transform="matrix(24.1 -11.9 0 -1.44 1423.3 231.2)" d="M0.000 0.0L0.412 4.4L0.523 5.0L0.671 4.2L1.000 0.0Z"/><path transform="matrix(24.9 -12.4 0 -1.44 1424.7 231.5)" d="M0.000 0.0L0.397 5.0L0.505 5.7L0.611 5.2L1.000 0.0Z"/><path transform="matrix(26.7 -13.3 0 -1.44 1425.2 232.2)" d="M0.000 0.0L0.169 1.9L0.405 5.6L0.505 6.3L0.605 5.8L0.836 1.8L1.000 0.0Z"/><path transform="matrix(28.5 -14.1 0 -1.44 1425.6 232.9)" d="M0.000 0.0L0.159 2.0L0.411 7.6L0.505 8.6L0.599 7.9L0.816 2.5L1.000 0.0Z"/><path transform="matrix(30.2 -15.0 0 -1.45 1426.1 233.7)" d="M0.000 0.0L0.180 3.0L0.417 11.0L0.505 12.5L0.594 11.5L0.827 2.8L1.000 0.0Z"/><path transform="matrix(31.1 -15.5 0 -1.45 1427.5 234.0)" d="M0.000 0.0L0.175 3.9L0.405 14.5L0.491 16.5L0.520 16.4L0.577 15.0L0.747 6.1L0.804 3.7L0.888 1.5L1.000 0.0Z"/><path transform="matrix(34.6 -17.3 0 -1.45 1428.0 234.7)" d="M0.000 0.0L0.105 2.2L0.183 5.1L0.235 8.1L0.391 18.9L0.442 21.0L0.468 21.4L0.493 21.4L0.545 19.6L0.698 8.0L0.774 3.7L0.849 1.6L1.000 0.0Z"/><path transform="matrix(31.0 -15.6 0 -1.45 1436.4 236.4)" d="M0.000 0.0L0.117 2.1L0.204 5.0L0.261 8.0L0.434 18.7L0.491 20.8L0.520 21.2L0.548 21.1L0.605 19.3L0.662 15.8L0.775 7.6L0.832 4.5L0.888 2.3L1.000 0.0Z"/><path transform="matrix(29.3 -15.8 0 -1.52 1504.9 249.7)" d="M0.000 0.0L0.180 3.9L0.417 14.4L0.506 16.3L0.535 16.3L0.594 14.9L0.769 6.0L0.827 3.6L0.885 2.0L1.000 0.0Z"/><path transform="matrix(28.4 -15.3 0 -1.53 1507.2 249.5)" d="M0.000 0.0L0.154 2.6L0.399 9.5L0.490 10.8L0.581 9.9L0.821 2.5L1.000 0.0Z"/><path transform="matrix(28.4 -15.4 0 -1.53 1508.7 249.8)" d="M0.000 0.0L0.154 2.1L0.399 7.8L0.490 8.9L0.581 8.1L0.821 2.1L1.000 0.0Z"/><path transform="matrix(27.5 -14.9 0 -1.54 1511.0 249.6)" d="M0.000 0.0L0.159 2.1L0.380 6.1L0.474 7.0L0.568 6.4L0.785 2.2L1.000 0.0Z"/><path transform="matrix(29.1 -15.8 0 -1.55 1512.5 249.9)" d="M0.000 0.0L0.150 2.0L0.358 5.8L0.447 6.6L0.535 6.1L0.769 1.8L0.971 0.6L1.000 0.0Z"/><path transform="matrix(32.5 -17.7 0 -1.55 1514.0 250.2)" d="M0.000 0.0L0.134 2.0L0.321 5.7L0.401 6.5L0.480 6.0L0.716 1.5L0.974 0.6L1.000 0.0Z"/><path transform="matrix(27.4 -14.9 0 -1.56 1515.5 250.5)" d="M0.000 0.0L0.159 1.9L0.380 5.7L0.474 6.4L0.568 5.9L0.785 2.1L1.000 0.0Z"/><path transform="matrix(25.7 -14.0 0 -1.56 1516.9 250.8)" d="M0.000 0.0L0.169 1.9L0.405 5.6L0.505 6.3L0.605 5.8L0.836 1.9L1.000 0.0Z"/><path transform="matrix(24.9 -13.6 0 -1.57 1518.4 251.1)" d="M0.000 0.0L0.175 2.0L0.418 6.0L0.522 6.8L0.625 6.2L1.000 0.0Z"/><path transform="matrix(24.9 -13.6 0 -1.58 1519.9 251.4)" d="M0.000 0.0L0.175 2.2L0.418 6.5L0.522 7.4L0.625 6.8L0.830 2.7L1.000 0.0Z"/><path transform="matrix(25.7 -14.1 0 -1.58 1521.4 251.7)" d="M0.000 0.0L0.169 2.4L0.405 7.1L0.505 8.1L0.605 7.3L0.836 2.2L1.000 0.0Z"/><path transform="matrix(26.5 -14.6 0 -1.59 1522.0 252.5)" d="M0.000 0.0L0.164 2.1L0.424 7.7L0.521 8.7L0.618 8.0L0.841 2.5L1.000 0.0Z"/><path transform="matrix(28.2 -15.5 0 -1.60 1523.5 252.8)" d="M0.000 0.0L0.154 2.5L0.399 9.4L0.490 10.7L0.581 9.7L0.821 2.4L1.000 0.0Z"/><path transform="matrix(29.9 -16.5 0 -1.60 1524.1 253.6)" d="M0.000 0.0L0.175 3.2L0.406 12.0L0.492 13.6L0.577 12.5L0.804 3.1L0.860 1.8L1.000 0.0Z"/><path transform="matrix(31.5 -17.4 0 -1.61 1525.6 253.9)" d="M0.000 0.0L0.166 3.9L0.384 14.6L0.466 16.5L0.493 16.5L0.547 15.2L0.708 6.2L0.788 3.0L0.868 1.4L1.000 0.0Z"/><path transform="matrix(60.0 -33.1 0 -1.61 1526.2 254.6)" d="M0.000 0.0L0.058 1.9L0.101 4.6L0.130 7.3L0.216 17.0L0.259 19.3L0.273 19.3L0.302 17.7L0.400 6.0L0.428 3.7L0.470 1.9L0.553 1.0L0.987 0.6L1.000 0.0Z"/><path transform="matrix(95.4 -52.8 0 -1.62 1527.7 255.0)" d="M0.000 0.0L0.037 2.2L0.064 5.1L0.082 8.1L0.136 19.0L0.163 21.7L0.172 21.7L0.189 20.0L0.243 8.9L0.260 6.0L0.287 3.5L0.313 2.6L0.502 1.5L0.992 1.1L1.000 0.0Z"/><path transform="matrix(94.6 -53.4 0 -1.62 1547.3 258.9)" d="M0.000 0.0L0.037 1.9L0.064 4.4L0.136 16.3L0.163 18.5L0.172 18.5L0.190 17.1L0.243 7.5L0.260 5.0L0.287 2.8L0.313 2.0L0.485 1.2L0.992 0.8L1.000 0.0Z"/><path transform="matrix(47.4 -26.8 0 -1.62 1549.7 258.7)" d="M0.000 0.0L0.109 3.5L0.253 12.9L0.306 14.6L0.360 13.4L0.483 4.6L0.553 1.8L0.640 0.9L0.983 0.6L1.000 0.0Z"/><path transform="matrix(27.9 -15.8 0 -1.62 1551.2 259.1)" d="M0.000 0.0L0.185 3.4L0.430 12.4L0.521 14.1L0.611 12.9L0.821 4.0L0.881 2.2L1.000 0.0Z"/><path transform="matrix(27.8 -15.8 0 -1.62 1552.7 259.4)" d="M0.000 0.0L0.185 2.9L0.430 10.6L0.521 12.1L0.611 11.0L0.821 3.4L1.000 0.0Z"/><path transform="matrix(26.1 -14.9 0 -1.62 1555.1 259.2)" d="M0.000 0.0L0.164 2.2L0.424 8.2L0.521 9.4L0.618 8.5L0.842 2.6L1.000 0.0Z"/><path transform="matrix(24.4 -13.9 0 -1.62 1557.5 259.0)" d="M0.000 0.0L0.175 2.0L0.419 5.9L0.522 6.6L0.625 6.1L1.000 0.0Z"/><path transform="matrix(21.9 -12.5 0 -1.62 1560.7 258.3)" d="M0.000 0.0L0.350 3.2L0.504 3.9L0.658 3.3L1.000 0.0Z"/><path transform="matrix(54.2 -32.6 0 -1.62 1610.3 267.0)" d="M0.000 0.0L0.015 0.8L0.183 2.6L0.393 0.8L0.986 0.6L1.000 0.0Z"/><path transform="matrix(81.0 -48.8 0 -1.62 1611.0 267.8)" d="M0.000 0.0L0.010 0.8L0.092 3.0L0.143 3.7L0.263 2.3L0.892 1.7L0.991 0.6L1.000 0.0Z"/><path transform="matrix(83.4 -50.3 0 -1.62 1610.9 269.2)" d="M0.000 0.0L0.129 6.2L0.188 7.4L0.333 6.5L0.886 6.1L0.912 5.2L1.000 0.0Z"/><path transform="matrix(84.1 -50.8 0 -1.62 1611.7 270.0)" d="M0.000 0.0L0.050 2.6L0.157 10.9L0.187 12.1L0.225 12.7L0.331 12.1L0.878 12.0L0.896 11.4L0.913 9.9L0.974 2.2L1.000 0.0Z"/><path transform="matrix(81.7 -49.4 0 -1.62 1614.9 269.3)" d="M0.000 0.0L0.122 5.3L0.192 6.4L0.310 5.7L0.884 5.7L0.920 4.7L1.000 0.0Z"/><path transform="matrix(80.9 -49.0 0 -1.62 1616.5 269.6)" d="M0.000 0.0L0.123 5.2L0.183 6.2L0.313 5.3L0.901 5.2L0.937 3.9L1.000 0.0Z"/><path transform="matrix(82.4 -50.0 0 -1.62 1617.2 270.4)" d="M0.000 0.0L0.140 8.9L0.170 10.2L0.210 10.7L0.317 9.9L0.885 9.9L0.920 8.1L1.000 0.0Z"/><path transform="matrix(82.3 -50.1 0 -1.62 1618.8 270.8)" d="M0.000 0.0L0.140 8.4L0.170 9.6L0.210 10.1L0.327 9.4L0.885 9.4L0.920 7.7L1.000 0.0Z"/><path transform="matrix(77.6 -47.3 0 -1.62 1622.9 269.6)" d="M0.000 0.0L0.011 0.7L0.085 2.2L0.148 2.9L0.294 2.2L0.915 2.1L0.991 0.8L1.000 0.0Z"/><path transform="matrix(19.2 -12.3 0 -1.63 1663.8 278.5)" d="M0.000 0.0L0.042 0.7L0.504 3.1L0.670 2.6L1.000 0.0Z"/><path transform="matrix(20.0 -12.8 0 -1.63 1664.6 279.3)" d="M0.000 0.0L0.364 3.1L0.524 3.8L0.684 3.2L0.961 0.8L1.000 0.0Z"/><path transform="matrix(21.6 -13.8 0 -1.63 1665.4 280.2)" d="M0.000 0.0L0.412 3.9L0.523 4.5L0.671 3.7L1.000 0.0Z"/><path transform="matrix(21.5 -13.8 0 -1.63 1667.0 280.5)" d="M0.000 0.0L0.412 4.5L0.523 5.1L0.671 4.3L1.000 0.0Z"/><path transform="matrix(22.3 -14.3 0 -1.63 1668.7 280.8)" d="M0.000 0.0L0.398 5.1L0.505 5.8L0.612 5.3L1.000 0.0Z"/><path transform="matrix(23.1 -14.9 0 -1.63 1669.5 281.7)" d="M0.000 0.0L0.175 1.9L0.419 5.6L0.522 6.4L0.625 5.8L1.000 0.0Z"/><path transform="matrix(23.1 -14.9 0 -1.63 1671.1 282.0)" d="M0.000 0.0L0.175 2.1L0.419 6.1L0.522 6.9L0.625 6.3L1.000 0.0Z"/><path transform="matrix(23.0 -14.9 0 -1.63 1672.8 282.4)" d="M0.000 0.0L0.175 2.2L0.419 6.5L0.522 7.4L0.625 6.7L1.000 0.0Z"/><path transform="matrix(23.8 -15.4 0 -1.63 1674.4 282.7)" d="M0.000 0.0L0.170 2.4L0.405 6.9L0.505 7.9L0.605 7.2L0.836 2.2L1.000 0.0Z"/><path transform="matrix(24.6 -16.0 0 -1.63 1675.3 283.6)" d="M0.000 0.0L0.164 2.0L0.425 7.4L0.522 8.3L0.618 7.6L0.842 2.3L1.000 0.0Z"/><path transform="matrix(24.6 -16.0 0 -1.63 1676.9 283.9)" d="M0.000 0.0L0.164 2.1L0.425 7.8L0.522 8.8L0.618 8.0L0.842 2.5L1.000 0.0Z"/><path transform="matrix(24.5 -16.0 0 -1.63 1678.5 284.2)" d="M0.000 0.0L0.164 2.6L0.425 9.8L0.522 11.1L0.618 10.1L0.842 3.1L1.000 0.0Z"/><path transform="matrix(26.1 -17.1 0 -1.63 1679.4 285.1)" d="M0.000 0.0L0.185 3.7L0.430 13.6L0.521 15.4L0.551 15.4L0.612 14.1L0.822 4.3L0.881 2.4L1.000 0.0Z"/><path transform="matrix(27.7 -18.1 0 -1.63 1680.2 286.0)" d="M0.000 0.0L0.117 2.0L0.204 4.7L0.262 7.4L0.435 17.4L0.520 19.7L0.549 19.7L0.606 18.0L0.776 7.1L0.832 4.2L0.888 2.2L1.000 0.0Z"/><path transform="matrix(24.1 -16.3 0 -1.63 1713.6 291.3)" d="M0.000 0.0L0.164 2.0L0.425 7.4L0.522 8.4L0.618 7.7L0.842 2.3L1.000 0.0Z"/><path transform="matrix(24.0 -16.4 0 -1.63 1715.2 291.7)" d="M0.000 0.0L0.164 2.1L0.425 7.9L0.522 8.9L0.618 8.1L0.842 2.5L1.000 0.0Z"/><path transform="matrix(24.0 -16.4 0 -1.63 1716.9 292.0)" d="M0.000 0.0L0.164 2.2L0.425 8.3L0.522 9.4L0.618 8.6L0.842 2.6L1.000 0.0Z"/><path transform="matrix(24.0 -16.4 0 -1.63 1718.6 292.4)" d="M0.000 0.0L0.164 2.0L0.425 7.3L0.522 8.3L0.618 7.6L0.842 2.3L1.000 0.0Z"/><path transform="matrix(21.6 -14.8 0 -1.63 1721.9 291.6)" d="M0.000 0.0L0.398 5.1L0.505 5.7L0.612 5.2L1.000 0.0Z"/><path transform="matrix(18.5 -12.7 0 -1.63 1725.2 290.9)" d="M0.000 0.0L0.042 0.8L0.504 3.2L0.670 2.7L1.000 0.0Z"/><path transform="matrix(19.3 -14.3 0 -1.64 1788.3 304.3)" d="M0.000 0.0L0.350 3.4L0.505 4.2L0.658 3.5L1.000 0.0Z"/><path transform="matrix(21.5 -15.9 0 -1.64 1788.5 305.8)" d="M0.000 0.0L0.175 2.1L0.419 6.2L0.522 7.0L0.626 6.4L1.000 0.0Z"/><path transform="matrix(21.5 -16.0 0 -1.64 1790.3 306.2)" d="M0.000 0.0L0.175 2.3L0.419 6.6L0.522 7.5L0.626 6.8L0.831 2.7L1.000 0.0Z"/><path transform="matrix(19.9 -14.9 0 -1.64 1792.8 306.0)" d="M0.000 0.0L0.412 4.0L0.523 4.6L0.671 3.8L1.000 0.0Z"/><path transform="matrix(16.9 -12.7 0 -1.64 1799.6 305.9)" d="M0.000 0.0L0.044 0.7L0.526 2.7L0.742 2.0L0.957 0.8L1.000 0.0Z"/><path transform="matrix(17.6 -13.3 0 -1.64 1801.4 306.3)" d="M0.000 0.0L0.042 0.7L0.504 3.0L0.671 2.5L1.000 0.0Z"/><path transform="matrix(17.6 -13.3 0 -1.64 1803.2 306.6)" d="M0.000 0.0L0.042 0.8L0.504 3.2L0.671 2.7L1.000 0.0Z"/><path transform="matrix(18.3 -13.9 0 -1.64 1804.2 307.6)" d="M0.000 0.0L0.525 3.5L0.684 2.9L1.000 0.0Z"/><path transform="matrix(16.9 -12.8 0 -1.64 1806.7 307.3)" d="M0.000 0.0L0.044 0.6L0.526 2.7L0.742 2.0L0.957 0.7L1.000 0.0Z"/><path transform="matrix(20.3 -15.6 0 -1.64 1815.6 309.2)" d="M0.000 0.0L0.036 0.7L0.290 2.5L0.469 3.2L1.000 0.0Z"/><path transform="matrix(18.2 -13.9 0 -1.64 1817.4 309.5)" d="M0.000 0.0L0.324 2.2L0.525 2.7L0.961 0.7L1.000 0.0Z"/></g>
<path d="M1211.0 321.0L1690.0 442.0L1923.0 256.0L1501.0 180.2Z" fill="#300808" filter="url(#tex)" opacity="0.5"/>
<path d="M1653 260h0M1491 267h0M1852 262h0M1332 299h0M1373 256h0M1370 252h0M1587 340h0M1682 290h0M1396 237h0M1451 278h0M1536 240h0M1453 340h0M1668 249h0M1413 314h0M1637 215h0M1846 305h0M1846 271h0M1404 345h0M1663 293h0M1439 319h0M1529 284h0M1419 299h0M1649 231h0M1559 333h0M1470 274h0M1364 308h0M1465 361h0M1533 308h0M1733 268h0M1712 275h0M1567 251h0M1528 262h0M1487 280h0M1317 287h0M1738 387h0M1703 282h0M1676 314h0M1499 375h0M1308 295h0M1308 319h0M1436 247h0M1561 199h0M1672 298h0M1611 350h0M1856 274h0M1678 313h0M1796 281h0M1749 240h0M1604 323h0M1517 345h0M1507 228h0M1817 242h0M1754 315h0M1402 253h0M1846 282h0M1560 293h0M1361 313h0M1503 198h0M1543 365h0M1407 357h0M1515 229h0M1642 306h0M1522 245h0M1782 345h0M1260 318h0M1522 191h0M1679 241h0M1367 295h0M1759 245h0M1378 346h0M1698 362h0M1598 374h0M1748 253h0M1647 334h0M1585 376h0M1475 283h0M1667 392h0M1826 276h0M1773 360h0M1376 301h0M1835 246h0M1666 310h0M1572 221h0M1647 404h0M1543 216h0M1696 356h0M1464 278h0M1480 362h0M1745 315h0M1636 364h0M1857 291h0M1622 210h0M1751 254h0M1249 316h0M1640 346h0M1488 348h0M1809 335h0M1619 402h0M1441 362h0M1747 336h0M1266 315h0M1474 366h0M1425 268h0M1599 274h0M1600 321h0M1537 360h0M1559 225h0M1349 299h0M1462 267h0M1222 316h0M1465 341h0M1731 258h0M1662 265h0M1395 355h0M1516 302h0M1520 362h0M1544 219h0M1451 280h0M1731 374h0M1482 228h0M1637 276h0M1363 259h0M1295 281h0M1551 389h0M1611 202h0M1801 338h0M1720 289h0M1652 232h0M1525 213h0M1484 199h0M1645 314h0M1647 311h0M1605 388h0M1673 233h0M1712 384h0M1575 209h0M1378 348h0M1656 323h0M1682 314h0M1557 301h0M1589 213h0M1725 258h0M1703 374h0M1858 270h0M1599 277h0M1486 217h0M1449 253h0M1288 321h0M1626 299h0M1728 259h0M1705 420h0M1658 288h0M1658 295h0M1693 238h0M1566 278h0M1552 382h0M1432 349h0M1269 335h0M1370 306h0M1604 278h0M1727 322h0M1739 346h0M1705 302h0M1573 339h0M1847 286h0M1438 250h0M1702 430h0M1556 235h0M1453 214h0M1669 259h0M1706 227h0M1531 262h0M1405 240h0M1661 212h0M1699 404h0M1269 305h0M1507 228h0M1607 286h0M1416 371h0M1653 208h0M1746 307h0M1557 203h0M1576 262h0M1402 287h0M1481 290h0M1423 224h0M1466 243h0M1682 268h0M1428 301h0M1669 332h0M1536 202h0M1478 194h0M1455 287h0M1794 348h0M1656 324h0M1825 292h0M1449 358h0M1516 276h0M1494 263h0M1452 262h0M1635 263h0M1747 274h0M1533 287h0M1721 350h0M1800 235h0M1793 321h0M1526 252h0M1670 301h0M1497 280h0M1341 281h0M1473 232h0M1712 401h0M1447 214h0M1516 273h0M1296 297h0M1694 289h0M1846 249h0M1549 257h0M1557 282h0M1648 210h0M1535 363h0M1776 236h0M1780 317h0M1459 205h0M1837 291h0M1514 300h0M1585 384h0M1711 316h0M1484 206h0M1415 344h0M1533 209h0M1514 219h0M1609 396h0M1622 239h0M1664 233h0M1559 257h0M1545 214h0M1754 310h0M1458 295h0M1517 362h0M1527 323h0M1459 301h0M1651 382h0M1365 317h0M1355 255h0M1830 257h0M1552 299h0M1759 319h0M1638 269h0M1492 205h0M1421 248h0M1793 322h0M1568 240h0M1796 307h0M1493 198h0M1427 221h0M1680 394h0M1643 259h0M1365 298h0M1292 301h0M1355 285h0M1741 280h0M1739 287h0M1622 382h0M1464 379h0M1659 236h0M1509 319h0M1451 283h0M1877 252h0M1803 237h0M1644 352h0M1607 248h0M1718 279h0M1471 348h0M1729 388h0M1715 410h0M1780 359h0M1589 414h0M1483 324h0M1708 280h0M1614 253h0M1705 418h0M1651 266h0M1575 342h0M1691 373h0M1734 327h0M1513 212h0M1480 210h0M1714 240h0M1696 335h0M1355 290h0M1414 223h0M1307 300h0M1442 279h0M1650 315h0M1463 359h0M1423 320h0M1555 403h0M1680 267h0M1447 368h0M1394 306h0M1409 304h0M1869 286h0M1813 290h0M1622 212h0M1482 339h0M1621 353h0M1786 280h0M1476 274h0M1718 281h0M1510 339h0M1553 243h0M1615 251h0M1625 330h0M1459 227h0M1533 264h0M1312 309h0M1589 255h0M1490 216h0M1784 293h0M1625 359h0M1360 277h0M1396 266h0M1643 352h0M1735 331h0M1473 237h0M1504 309h0M1703 218h0M1642 349h0M1702 392h0M1503 299h0M1683 439h0M1649 300h0M1471 237h0M1784 274h0M1480 210h0M1601 223h0M1486 368h0M1708 301h0M1593 262h0M1416 363h0M1722 369h0M1346 342h0M1773 245h0M1640 238h0M1472 290h0M1429 301h0M1559 323h0M1448 223h0M1465 287h0M1306 332h0M1629 315h0M1658 428h0M1600 414h0M1288 337h0M1543 312h0M1618 205h0M1715 231h0M1723 356h0M1565 356h0M1568 248h0M1491 368h0M1474 214h0M1707 283h0M1533 223h0M1514 357h0M1469 240h0M1828 321h0M1546 238h0M1490 241h0M1400 360h0M1588 288h0M1822 293h0M1532 248h0M1512 243h0M1653 279h0M1491 228h0M1656 254h0M1451 216h0M1814 318h0M1536 199h0M1543 331h0M1720 244h0M1430 244h0M1739 236h0M1387 246h0M1725 284h0M1786 297h0M1666 282h0M1528 209h0M1445 374h0M1773 288h0M1524 385h0M1631 336h0M1635 383h0M1389 338h0M1325 271h0M1650 321h0M1601 209h0M1790 237h0M1403 319h0M1695 419h0M1812 245h0M1698 296h0M1463 308h0M1361 267h0M1510 330h0M1908 254h0M1514 253h0M1780 311h0M1601 224h0M1622 272h0M1643 351h0M1602 347h0M1583 345h0M1678 344h0M1717 398h0M1760 253h0M1759 321h0M1544 327h0M1807 279h0M1585 288h0M1793 319h0M1287 312h0M1709 309h0M1586 304h0M1461 205h0M1517 282h0M1446 344h0M1898 259h0M1234 313h0M1647 209h0M1673 224h0M1508 274h0M1770 293h0M1482 276h0M1609 316h0M1368 303h0M1613 364h0M1382 292h0M1916 256h0M1490 333h0M1648 227h0M1710 235h0M1829 273h0M1764 324h0M1511 219h0M1852 309h0M1579 206h0M1872 261h0M1755 237h0M1484 252h0M1919 256h0M1740 302h0M1608 318h0M1561 208h0M1579 319h0M1407 325h0M1489 235h0M1433 297h0M1633 400h0M1773 348h0M1806 267h0M1537 388h0M1635 311h0M1501 267h0M1625 322h0M1457 326h0M1470 240h0M1704 416h0M1675 286h0M1646 344h0M1414 299h0M1816 264h0M1668 359h0M1465 310h0M1593 353h0M1760 264h0M1502 347h0M1494 256h0M1607 365h0M1742 240h0M1775 249h0M1743 377h0M1557 207h0M1414 343h0M1629 303h0M1554 204h0M1687 215h0M1350 340h0M1722 366h0M1777 333h0M1562 377h0M1524 240h0M1865 279h0M1832 282h0M1741 386h0M1341 293h0M1580 317h0M1268 304h0M1437 293h0M1517 261h0M1731 249h0M1634 215h0M1505 288h0M1608 241h0M1669 324h0M1385 343h0M1344 334h0M1415 323h0M1705 263h0M1569 289h0M1625 209h0M1848 312h0M1711 344h0M1583 318h0M1818 314h0M1793 306h0M1347 279h0M1719 234h0" stroke="#3a0c0c" stroke-width="3.2" stroke-linecap="round" fill="none" opacity="0.7"/>
<g fill="url(#g3)"><path transform="matrix(101.2 -49.6 0 -1.43 1409.1 231.5)" d="M0.000 0.0L0.036 2.0L0.063 4.9L0.090 10.2L0.143 23.8L0.161 26.4L0.170 27.0L0.179 27.0L0.196 25.0L0.249 11.1L0.266 7.5L0.292 4.4L0.318 3.2L0.370 2.4L0.506 1.9L0.992 1.3L1.000 0.0Z"/><path transform="matrix(100.4 -50.2 0 -1.45 1428.5 235.4)" d="M0.000 0.0L0.036 2.4L0.063 6.0L0.090 12.5L0.143 29.2L0.161 32.5L0.170 33.2L0.179 33.1L0.196 30.5L0.214 25.3L0.249 13.0L0.266 8.4L0.293 4.3L0.319 2.7L0.362 1.9L0.455 1.6L0.992 1.0L1.000 0.0Z" fill="url(#g3l)"/><path transform="matrix(101.3 -50.7 0 -1.45 1428.3 236.0)" d="M0.000 0.0L0.045 2.8L0.072 7.1L0.098 14.7L0.151 34.3L0.169 38.2L0.177 39.0L0.186 39.0L0.195 37.9L0.204 35.9L0.221 29.8L0.256 15.5L0.273 10.1L0.299 5.5L0.325 3.6L0.367 2.6L0.477 2.1L0.992 1.4L1.000 0.0Z" fill="url(#g3l)"/><path transform="matrix(109.5 -54.8 0 -1.45 1420.7 240.3)" d="M0.000 0.0L0.084 2.6L0.108 4.7L0.125 7.2L0.141 11.0L0.158 16.1L0.215 39.3L0.231 42.8L0.239 43.2L0.247 42.8L0.264 38.9L0.312 16.7L0.328 11.0L0.352 6.3L0.375 4.4L0.415 3.4L0.540 2.6L0.993 1.8L1.000 0.0Z" fill="url(#g3l)"/><path transform="matrix(118.8 -59.5 0 -1.45 1412.5 245.1)" d="M0.000 0.0L0.078 3.9L0.109 6.8L0.140 11.2L0.178 19.8L0.254 44.7L0.269 48.1L0.276 49.0L0.284 48.9L0.291 47.8L0.306 43.2L0.351 19.9L0.366 13.7L0.380 9.5L0.402 6.2L0.446 4.6L0.547 3.6L0.993 2.3L1.000 0.0Z"/><path transform="matrix(116.9 -58.6 0 -1.45 1414.7 244.3)" d="M0.000 0.0L0.063 2.4L0.095 4.2L0.126 7.0L0.149 10.2L0.173 14.7L0.188 18.7L0.249 40.1L0.265 44.0L0.272 44.8L0.280 44.8L0.288 43.9L0.303 39.7L0.348 17.8L0.363 12.1L0.378 8.4L0.400 5.6L0.445 4.1L0.540 3.3L0.993 2.1L1.000 0.0Z" fill="url(#g3d)"/><path transform="matrix(100.3 -50.3 0 -1.45 1432.6 236.3)" d="M0.000 0.0L0.036 2.5L0.063 6.3L0.090 12.9L0.143 30.2L0.161 33.6L0.170 34.3L0.179 34.3L0.196 31.6L0.214 26.3L0.249 13.8L0.267 9.2L0.293 5.1L0.319 3.5L0.362 2.7L0.489 2.1L0.992 1.4L1.000 0.0Z" fill="url(#g3d)"/><path transform="matrix(99.3 -49.9 0 -1.45 1435.0 236.1)" d="M0.000 0.0L0.036 2.4L0.064 5.6L0.082 8.9L0.136 20.9L0.153 23.2L0.162 23.7L0.171 23.7L0.189 21.8L0.242 9.2L0.260 5.9L0.286 3.0L0.312 1.8L0.442 1.1L0.992 0.7L1.000 0.0Z"/><path transform="matrix(36.2 -18.3 0 -1.46 1436.9 237.1)" d="M0.000 0.0L0.100 2.2L0.175 5.6L0.249 11.6L0.397 27.1L0.446 30.1L0.470 30.8L0.494 30.7L0.543 28.1L0.592 23.1L0.689 11.3L0.761 5.2L0.809 2.9L0.857 1.6L1.000 0.0Z" fill="url(#g3l)"/><path transform="matrix(101.0 -51.0 0 -1.46 1437.4 237.9)" d="M0.000 0.0L0.045 2.9L0.072 7.4L0.098 15.2L0.151 35.5L0.169 39.5L0.177 40.4L0.186 40.3L0.195 39.1L0.204 37.0L0.221 30.5L0.256 15.2L0.273 9.4L0.299 4.3L0.325 2.2L0.384 1.2L0.992 0.7L1.000 0.0Z" fill="url(#g3l)"/><path transform="matrix(100.9 -51.0 0 -1.46 1438.8 238.2)" d="M0.000 0.0L0.045 3.5L0.072 8.9L0.098 18.3L0.151 42.8L0.169 47.6L0.177 48.6L0.186 48.5L0.195 47.2L0.204 44.6L0.221 36.8L0.256 18.6L0.273 11.7L0.282 9.1L0.299 5.5L0.325 3.1L0.359 2.1L0.427 1.7L0.992 1.0L1.000 0.0Z" fill="url(#g3l)"/><path transform="matrix(100.8 -51.1 0 -1.46 1440.2 238.5)" d="M0.000 0.0L0.027 2.0L0.045 4.1L0.072 10.3L0.098 21.3L0.151 49.9L0.169 55.5L0.177 56.7L0.186 56.6L0.195 55.0L0.204 52.0L0.221 43.0L0.256 21.8L0.273 13.7L0.282 10.8L0.299 6.7L0.325 3.8L0.359 2.6L0.435 2.2L0.992 1.3L1.000 0.0Z" fill="url(#g3l)"/><path transform="matrix(100.8 -51.1 0 -1.46 1441.6 238.7)" d="M0.000 0.0L0.027 1.9L0.045 4.0L0.072 10.1L0.098 20.8L0.151 48.8L0.169 54.3L0.177 55.4L0.186 55.3L0.195 53.8L0.204 50.9L0.221 42.0L0.256 21.3L0.273 13.5L0.282 10.6L0.299 6.6L0.325 3.8L0.359 2.6L0.435 2.2L0.992 1.3L1.000 0.0Z"/><path transform="matrix(100.7 -51.1 0 -1.46 1443.1 239.0)" d="M0.000 0.0L0.027 1.8L0.045 3.8L0.072 9.5L0.098 19.6L0.151 45.8L0.169 51.0L0.177 52.0L0.186 52.0L0.195 50.5L0.204 47.8L0.221 39.5L0.256 20.1L0.273 12.8L0.282 10.0L0.299 6.3L0.325 3.7L0.359 2.6L0.444 2.1L0.992 1.3L1.000 0.0Z"/><path transform="matrix(100.7 -51.2 0 -1.46 1444.0 239.2)" d="M0.000 0.0L0.027 1.7L0.045 3.6L0.072 9.1L0.098 18.7L0.151 43.8L0.169 48.8L0.177 49.8L0.186 49.7L0.195 48.4L0.204 45.8L0.221 38.0L0.256 19.6L0.273 12.7L0.282 10.2L0.299 6.7L0.325 4.3L0.367 3.1L0.469 2.5L0.992 1.6L1.000 0.0Z" fill="url(#g3l)"/><path transform="matrix(100.7 -51.2 0 -1.46 1444.5 239.3)" d="M0.000 0.0L0.027 1.9L0.045 3.9L0.072 9.8L0.098 20.3L0.151 47.5L0.169 52.9L0.177 54.0L0.186 54.0L0.195 52.5L0.204 49.7L0.221 41.3L0.256 21.4L0.273 14.0L0.282 11.2L0.299 7.5L0.325 4.9L0.367 3.6L0.477 2.9L0.992 1.9L1.000 0.0Z" fill="url(#g3l)"/><path transform="matrix(117.1 -59.6 0 -1.46 1429.2 248.0)" d="M0.000 0.0L0.055 2.4L0.086 4.6L0.118 8.2L0.148 14.0L0.172 20.3L0.195 28.7L0.255 57.1L0.271 61.7L0.278 62.4L0.286 61.8L0.293 60.1L0.308 53.6L0.346 27.8L0.368 15.5L0.383 10.6L0.405 7.0L0.449 5.0L0.544 4.0L0.993 2.6L1.000 0.0Z" fill="url(#g3l)"/><path transform="matrix(120.7 -61.6 0 -1.47 1427.0 250.2)" d="M0.000 0.0L0.038 1.8L0.069 4.3L0.099 8.5L0.130 14.8L0.152 21.3L0.175 29.9L0.249 66.5L0.271 73.0L0.286 74.4L0.293 73.7L0.300 71.5L0.308 67.8L0.322 57.2L0.351 32.0L0.373 17.9L0.387 12.2L0.395 10.3L0.409 8.0L0.423 7.0L0.466 5.9L0.579 4.6L0.994 3.1L1.000 0.0Z" fill="url(#g3d)"/><path transform="matrix(116.0 -59.3 0 -1.47 1433.2 248.1)" d="M0.000 0.0L0.055 2.1L0.095 4.3L0.126 7.4L0.149 10.8L0.173 15.8L0.188 20.1L0.211 28.3L0.250 43.6L0.265 47.9L0.272 48.9L0.280 48.8L0.288 47.9L0.303 43.3L0.348 19.1L0.363 12.8L0.378 8.6L0.400 5.4L0.437 3.8L0.518 3.1L0.993 1.9L1.000 0.0Z" fill="url(#g3d)"/><path transform="matrix(104.1 -53.2 0 -1.47 1445.6 242.1)" d="M0.000 0.0L0.061 2.6L0.078 4.4L0.095 7.3L0.121 14.5L0.181 38.8L0.198 42.7L0.206 43.5L0.215 43.2L0.223 41.9L0.231 39.6L0.282 16.9L0.298 11.0L0.323 5.9L0.348 3.9L0.390 2.8L0.495 2.3L0.993 1.5L1.000 0.0Z" fill="url(#g3d)"/><path transform="matrix(99.5 -50.9 0 -1.47 1451.0 240.0)" d="M0.000 0.0L0.036 2.8L0.063 7.0L0.090 14.4L0.143 33.8L0.161 37.6L0.170 38.3L0.179 38.3L0.188 37.2L0.197 35.2L0.214 29.0L0.249 14.6L0.267 9.2L0.293 4.4L0.319 2.5L0.353 1.7L0.422 1.4L0.992 0.8L1.000 0.0Z" fill="url(#g3d)"/><path transform="matrix(33.4 -17.1 0 -1.47 1451.9 240.2)" d="M0.000 0.0L0.108 2.4L0.188 6.0L0.268 12.4L0.427 29.0L0.480 32.3L0.506 32.9L0.532 32.9L0.559 31.9L0.585 30.1L0.637 24.7L0.742 12.0L0.819 5.3L0.897 2.0L1.000 0.0Z"/><path transform="matrix(44.5 -22.8 0 -1.47 1452.5 240.3)" d="M0.000 0.0L0.081 2.6L0.141 6.6L0.201 13.6L0.321 31.9L0.361 35.4L0.380 36.2L0.400 36.1L0.420 35.0L0.439 33.1L0.479 27.2L0.538 16.6L0.577 10.5L0.616 6.2L0.655 3.4L0.693 2.0L0.751 1.0L0.981 0.6L1.000 0.0Z" fill="url(#g3l)"/><path transform="matrix(100.3 -51.5 0 -1.47 1452.8 241.0)" d="M0.000 0.0L0.045 3.2L0.072 8.0L0.098 16.5L0.151 38.5L0.169 42.9L0.178 43.8L0.186 43.7L0.195 42.4L0.204 40.1L0.221 33.1L0.256 16.7L0.273 10.4L0.299 4.9L0.325 2.7L0.359 1.8L0.418 1.5L0.992 0.9L1.000 0.0Z" fill="url(#g3l)"/><path transform="matrix(101.2 -52.0 0 -1.47 1453.5 241.8)" d="M0.000 0.0L0.027 1.6L0.044 3.4L0.062 6.7L0.080 12.1L0.106 25.0L0.159 58.5L0.176 65.0L0.185 66.4L0.194 66.3L0.202 64.4L0.211 60.9L0.228 50.3L0.263 25.4L0.280 16.0L0.288 12.5L0.305 7.7L0.331 4.4L0.365 3.0L0.432 2.5L0.992 1.5L1.000 0.0Z" fill="url(#g3l)"/><path transform="matrix(101.1 -52.0 0 -1.47 1454.3 242.0)" d="M0.000 0.0L0.027 1.8L0.044 3.9L0.062 7.8L0.080 14.1L0.106 29.1L0.159 68.0L0.176 75.7L0.185 77.3L0.194 77.1L0.202 75.0L0.211 70.9L0.228 58.6L0.263 29.7L0.280 18.7L0.288 14.7L0.305 9.1L0.314 7.4L0.331 5.2L0.365 3.6L0.440 2.9L0.992 1.8L1.000 0.0Z" fill="url(#g3l)"/><path transform="matrix(101.1 -52.0 0 -1.47 1454.9 242.1)" d="M0.000 0.0L0.027 2.1L0.044 4.4L0.062 8.8L0.080 15.9L0.106 32.8L0.159 76.7L0.176 85.3L0.185 87.1L0.194 87.0L0.202 84.6L0.211 80.0L0.228 66.2L0.263 33.8L0.280 21.6L0.288 17.1L0.305 10.9L0.314 9.0L0.331 6.6L0.365 4.8L0.457 3.8L0.992 2.4L1.000 0.0Z" fill="url(#g3l)"/><path transform="matrix(101.9 -52.5 0 -1.47 1455.5 242.9)" d="M0.000 0.0L0.035 2.5L0.053 5.5L0.070 10.9L0.088 19.7L0.114 40.6L0.166 94.9L0.175 101.2L0.183 105.6L0.192 107.9L0.201 107.8L0.209 104.8L0.218 99.3L0.235 82.4L0.269 42.7L0.286 27.7L0.295 22.2L0.311 14.7L0.320 12.4L0.337 9.6L0.354 8.0L0.379 7.0L0.487 5.6L0.697 4.3L0.992 3.7L1.000 0.0Z" fill="url(#g3l)"/><path transform="matrix(101.9 -52.6 0 -1.48 1456.3 243.0)" d="M0.000 0.0L0.035 2.8L0.053 6.1L0.070 12.1L0.088 21.9L0.114 45.3L0.166 105.9L0.175 113.0L0.183 117.9L0.192 120.4L0.201 120.3L0.209 117.1L0.218 110.9L0.235 92.1L0.269 48.0L0.286 31.4L0.295 25.3L0.311 17.0L0.320 14.5L0.337 11.3L0.354 9.6L0.379 8.4L0.495 6.7L0.705 5.2L0.992 4.4L1.000 0.0Z" fill="url(#g3l)"/><path transform="matrix(101.9 -52.6 0 -1.48 1456.9 243.1)" d="M0.000 0.0L0.035 3.0L0.053 6.5L0.070 12.9L0.088 23.4L0.114 48.2L0.166 112.8L0.175 120.3L0.183 125.5L0.192 128.2L0.201 128.1L0.209 124.7L0.218 118.1L0.235 98.2L0.269 51.3L0.286 33.8L0.295 27.3L0.311 18.5L0.320 15.8L0.337 12.5L0.354 10.7L0.379 9.3L0.495 7.4L0.705 5.8L0.992 4.9L1.000 0.0Z" fill="url(#g3l)"/><path transform="matrix(101.8 -52.6 0 -1.48 1458.3 243.4)" d="M0.000 0.0L0.035 3.5L0.053 7.5L0.070 14.9L0.088 26.9L0.114 55.5L0.166 130.0L0.175 138.6L0.183 144.6L0.192 147.8L0.201 147.7L0.209 143.8L0.218 136.3L0.235 113.4L0.269 59.7L0.286 39.6L0.295 32.2L0.311 22.2L0.320 19.2L0.337 15.4L0.354 13.3L0.379 11.7L0.503 9.2L0.713 7.2L0.992 6.2L1.000 0.0Z"/><path transform="matrix(101.8 -52.7 0 -1.48 1459.8 243.7)" d="M0.000 0.0L0.035 3.1L0.053 6.6L0.071 13.1L0.088 23.8L0.114 49.0L0.166 114.7L0.175 122.3L0.183 127.7L0.192 130.4L0.201 130.4L0.209 126.9L0.218 120.3L0.235 100.2L0.269 52.8L0.286 35.1L0.295 28.6L0.312 19.8L0.320 17.2L0.337 13.8L0.354 12.0L0.379 10.6L0.503 8.3L0.713 6.5L0.992 5.6L1.000 0.0Z" fill="url(#g3d)"/><path transform="matrix(101.7 -52.7 0 -1.48 1460.4 243.9)" d="M0.000 0.0L0.035 2.8L0.053 6.1L0.071 12.1L0.088 21.9L0.114 45.3L0.166 105.9L0.175 113.0L0.183 117.9L0.192 120.5L0.201 120.4L0.209 117.2L0.218 111.1L0.235 92.5L0.269 48.8L0.286 32.5L0.295 26.5L0.312 18.4L0.320 15.9L0.337 12.9L0.354 11.2L0.379 9.8L0.503 7.8L0.713 6.1L0.992 5.2L1.000 0.0Z" fill="url(#g3d)"/><path transform="matrix(101.7 -52.7 0 -1.48 1461.2 244.0)" d="M0.000 0.0L0.035 2.6L0.053 5.5L0.071 10.9L0.088 19.8L0.114 40.8L0.166 95.6L0.175 101.9L0.183 106.4L0.192 108.7L0.201 108.6L0.209 105.8L0.218 100.3L0.235 83.5L0.269 44.2L0.286 29.5L0.295 24.1L0.312 16.8L0.320 14.6L0.337 11.8L0.354 10.2L0.379 9.1L0.511 7.1L0.713 5.6L0.992 4.8L1.000 0.0Z" fill="url(#g3d)"/><path transform="matrix(100.8 -52.3 0 -1.48 1463.2 243.8)" d="M0.000 0.0L0.027 2.2L0.044 4.7L0.062 9.2L0.080 16.7L0.106 34.5L0.159 80.7L0.176 89.8L0.185 91.8L0.194 91.7L0.202 89.3L0.211 84.7L0.228 70.6L0.263 37.5L0.280 25.1L0.288 20.5L0.305 14.4L0.314 12.6L0.331 10.3L0.373 7.9L0.507 6.2L0.710 4.9L0.992 4.2L1.000 0.0Z" fill="url(#g3d)"/><path transform="matrix(100.7 -52.3 0 -1.48 1463.5 243.8)" d="M0.000 0.0L0.027 2.1L0.044 4.6L0.062 9.1L0.080 16.5L0.106 34.0L0.159 79.6L0.176 88.6L0.185 90.5L0.194 90.5L0.202 88.1L0.211 83.6L0.228 69.6L0.263 36.8L0.280 24.6L0.288 20.1L0.305 14.0L0.314 12.1L0.331 9.9L0.373 7.6L0.507 5.9L0.710 4.7L0.992 4.0L1.000 0.0Z" fill="url(#g3d)"/><path transform="matrix(100.7 -52.3 0 -1.48 1464.9 244.1)" d="M0.000 0.0L0.027 2.0L0.044 4.4L0.062 8.6L0.080 15.6L0.106 32.2L0.159 75.4L0.176 83.9L0.185 85.7L0.194 85.6L0.202 83.3L0.211 79.0L0.228 65.6L0.263 34.2L0.280 22.5L0.288 18.2L0.305 12.3L0.314 10.5L0.331 8.2L0.373 6.1L0.490 4.9L0.992 3.2L1.000 0.0Z"/><path transform="matrix(100.6 -52.4 0 -1.48 1466.4 244.4)" d="M0.000 0.0L0.027 2.1L0.044 4.4L0.062 8.8L0.080 15.9L0.106 32.8L0.159 76.7L0.176 85.4L0.185 87.2L0.194 87.1L0.202 84.8L0.211 80.4L0.228 66.8L0.263 34.9L0.280 22.9L0.288 18.5L0.305 12.5L0.314 10.7L0.331 8.4L0.373 6.3L0.490 5.0L0.702 3.9L0.992 3.3L1.000 0.0Z"/><path transform="matrix(100.6 -52.4 0 -1.49 1467.8 244.7)" d="M0.000 0.0L0.027 2.1L0.044 4.5L0.062 8.9L0.080 16.2L0.106 33.3L0.159 78.0L0.176 86.8L0.185 88.7L0.194 88.6L0.202 86.2L0.211 81.7L0.228 67.9L0.263 35.5L0.280 23.3L0.288 18.9L0.305 12.8L0.314 10.9L0.331 8.6L0.373 6.4L0.490 5.1L0.702 4.0L0.992 3.4L1.000 0.0Z"/><path transform="matrix(100.5 -52.4 0 -1.49 1468.5 244.9)" d="M0.000 0.0L0.027 2.1L0.044 4.5L0.062 9.0L0.080 16.3L0.106 33.6L0.159 78.6L0.176 87.4L0.185 89.3L0.194 89.2L0.202 86.9L0.211 82.3L0.228 68.4L0.263 35.8L0.280 23.5L0.288 19.0L0.305 12.9L0.314 11.0L0.331 8.7L0.373 6.5L0.490 5.2L0.702 4.0L0.992 3.4L1.000 0.0Z"/><path transform="matrix(100.5 -52.5 0 -1.49 1469.3 245.0)" d="M0.000 0.0L0.027 2.1L0.044 4.5L0.062 9.0L0.080 16.3L0.106 33.6L0.159 78.6L0.176 87.4L0.185 89.3L0.194 89.3L0.202 86.9L0.211 82.3L0.228 68.4L0.263 35.8L0.280 23.6L0.288 19.1L0.305 13.0L0.314 11.1L0.331 8.8L0.373 6.6L0.490 5.3L0.702 4.1L0.992 3.5L1.000 0.0Z"/><path transform="matrix(100.4 -52.5 0 -1.49 1470.7 245.3)" d="M0.000 0.0L0.027 2.1L0.044 4.5L0.062 9.0L0.080 16.3L0.106 33.6L0.159 78.6L0.176 87.4L0.185 89.3L0.194 89.3L0.202 86.9L0.211 82.3L0.228 68.5L0.263 35.9L0.280 23.7L0.288 19.2L0.305 13.1L0.314 11.3L0.331 9.0L0.373 6.8L0.499 5.3L0.710 4.2L0.992 3.6L1.000 0.0Z"/><path transform="matrix(100.4 -52.6 0 -1.49 1472.2 245.6)" d="M0.000 0.0L0.027 2.2L0.044 4.7L0.062 9.3L0.080 16.9L0.106 34.8L0.159 81.4L0.176 90.5L0.185 92.5L0.194 92.4L0.202 90.0L0.211 85.3L0.228 70.9L0.263 37.1L0.280 24.5L0.288 19.8L0.305 13.5L0.314 11.6L0.331 9.2L0.373 6.9L0.490 5.5L0.702 4.3L0.992 3.7L1.000 0.0Z"/><path transform="matrix(100.3 -52.6 0 -1.49 1473.3 245.8)" d="M0.000 0.0L0.027 2.2L0.044 4.9L0.062 9.6L0.080 17.4L0.106 35.8L0.159 83.9L0.168 89.4L0.176 93.3L0.185 95.3L0.194 95.2L0.202 92.7L0.211 87.9L0.228 73.0L0.263 38.2L0.280 25.2L0.288 20.4L0.305 13.9L0.314 11.9L0.331 9.4L0.348 8.0L0.373 7.0L0.490 5.6L0.702 4.4L0.992 3.7L1.000 0.0Z" fill="url(#g3d)"/><path transform="matrix(100.3 -52.6 0 -1.49 1474.5 246.1)" d="M0.000 0.0L0.027 1.8L0.045 3.9L0.062 7.8L0.080 14.1L0.106 29.1L0.159 68.0L0.176 75.7L0.185 77.3L0.194 77.3L0.202 75.2L0.211 71.2L0.228 59.2L0.263 30.9L0.280 20.3L0.288 16.4L0.305 11.1L0.331 7.5L0.373 5.6L0.490 4.5L0.992 3.0L1.000 0.0Z" fill="url(#g3d)"/><path transform="matrix(100.3 -52.7 0 -1.49 1475.0 246.2)" d="M0.000 0.0L0.027 1.6L0.045 3.4L0.062 6.8L0.080 12.3L0.106 25.4L0.159 59.4L0.176 66.1L0.185 67.6L0.194 67.5L0.202 65.7L0.211 62.3L0.228 51.7L0.263 27.0L0.280 17.8L0.288 14.4L0.305 9.7L0.331 6.6L0.373 4.9L0.490 3.9L0.992 2.6L1.000 0.0Z" fill="url(#g3d)"/><path transform="matrix(99.3 -52.2 0 -1.50 1477.2 246.0)" d="M0.000 0.0L0.045 3.3L0.072 8.4L0.098 17.4L0.151 40.6L0.169 45.2L0.178 46.2L0.186 46.2L0.195 44.9L0.204 42.6L0.221 35.4L0.256 18.5L0.273 12.2L0.282 9.9L0.299 6.7L0.325 4.6L0.368 3.4L0.486 2.7L0.992 1.8L1.000 0.0Z" fill="url(#g3d)"/><path transform="matrix(99.2 -52.3 0 -1.50 1478.8 246.3)" d="M0.000 0.0L0.045 2.9L0.072 7.4L0.098 15.2L0.151 35.6L0.169 39.6L0.178 40.5L0.186 40.4L0.195 39.3L0.204 37.2L0.221 30.7L0.256 15.6L0.273 9.9L0.299 4.9L0.325 2.9L0.359 2.0L0.444 1.6L0.992 1.0L1.000 0.0Z"/><path transform="matrix(98.3 -51.8 0 -1.50 1480.5 246.0)" d="M0.000 0.0L0.036 2.7L0.063 6.9L0.090 14.2L0.144 33.3L0.161 37.1L0.170 37.9L0.179 37.8L0.188 36.8L0.197 34.8L0.214 28.8L0.249 14.7L0.267 9.3L0.293 4.6L0.319 2.8L0.353 2.0L0.439 1.6L0.992 1.0L1.000 0.0Z"/><path transform="matrix(99.2 -52.3 0 -1.50 1480.3 246.6)" d="M0.000 0.0L0.045 2.9L0.072 7.2L0.098 14.9L0.151 34.9L0.169 38.8L0.178 39.6L0.186 39.5L0.195 38.4L0.204 36.3L0.221 30.0L0.256 15.2L0.273 9.6L0.299 4.7L0.325 2.7L0.359 1.9L0.435 1.6L0.992 1.0L1.000 0.0Z"/><path transform="matrix(99.1 -52.4 0 -1.50 1481.7 246.9)" d="M0.000 0.0L0.045 3.1L0.072 7.9L0.098 16.2L0.151 38.0L0.169 42.3L0.178 43.1L0.186 43.1L0.195 41.8L0.204 39.6L0.221 32.6L0.256 16.4L0.273 10.3L0.299 4.9L0.325 2.7L0.359 1.8L0.419 1.5L0.992 0.9L1.000 0.0Z" fill="url(#g3l)"/><path transform="matrix(99.1 -52.4 0 -1.50 1483.2 247.2)" d="M0.000 0.0L0.027 2.0L0.045 4.1L0.072 10.4L0.098 21.5L0.151 50.3L0.169 55.9L0.178 57.1L0.186 57.0L0.195 55.4L0.204 52.3L0.221 43.2L0.256 21.6L0.273 13.4L0.282 10.4L0.299 6.2L0.325 3.3L0.351 2.3L0.393 1.8L0.992 1.0L1.000 0.0Z" fill="url(#g3l)"/><path transform="matrix(99.9 -52.9 0 -1.50 1483.5 247.9)" d="M0.000 0.0L0.027 1.7L0.045 3.6L0.062 7.1L0.080 12.8L0.106 26.4L0.159 61.8L0.176 68.7L0.185 70.2L0.194 70.0L0.202 68.0L0.211 64.4L0.228 53.1L0.263 26.8L0.280 16.8L0.288 13.1L0.305 8.0L0.331 4.5L0.365 3.0L0.432 2.5L0.992 1.5L1.000 0.0Z" fill="url(#g3l)"/><path transform="matrix(99.8 -53.0 0 -1.50 1485.2 248.3)" d="M0.000 0.0L0.027 1.9L0.045 4.0L0.062 8.0L0.080 14.4L0.106 29.7L0.159 69.6L0.176 77.4L0.185 79.1L0.194 78.9L0.202 76.7L0.211 72.6L0.228 60.1L0.263 30.7L0.280 19.7L0.288 15.6L0.305 9.9L0.314 8.2L0.331 6.1L0.365 4.4L0.457 3.5L0.992 2.2L1.000 0.0Z"/><path transform="matrix(99.8 -53.0 0 -1.51 1486.7 248.6)" d="M0.000 0.0L0.027 1.8L0.045 3.8L0.062 7.5L0.080 13.5L0.106 27.9L0.159 65.4L0.176 72.8L0.185 74.3L0.194 74.3L0.202 72.2L0.211 68.4L0.228 56.8L0.263 29.5L0.280 19.3L0.288 15.5L0.305 10.3L0.331 6.8L0.373 5.0L0.482 4.0L0.992 2.6L1.000 0.0Z" fill="url(#g3d)"/><path transform="matrix(99.7 -53.0 0 -1.51 1487.1 248.7)" d="M0.000 0.0L0.027 1.7L0.045 3.7L0.062 7.3L0.080 13.2L0.106 27.3L0.159 63.9L0.176 71.1L0.185 72.6L0.194 72.5L0.202 70.5L0.211 66.8L0.228 55.4L0.263 28.7L0.280 18.7L0.288 14.9L0.305 9.9L0.331 6.4L0.373 4.7L0.482 3.7L0.992 2.5L1.000 0.0Z" fill="url(#g3d)"/><path transform="matrix(98.8 -52.6 0 -1.51 1489.0 248.4)" d="M0.000 0.0L0.027 2.1L0.045 4.3L0.063 8.1L0.072 10.8L0.098 22.2L0.151 51.9L0.169 57.8L0.178 59.0L0.186 58.9L0.195 57.3L0.204 54.3L0.221 45.0L0.256 23.3L0.273 15.2L0.282 12.1L0.299 8.0L0.325 5.2L0.368 3.8L0.478 3.1L0.992 2.0L1.000 0.0Z" fill="url(#g3d)"/><path transform="matrix(98.8 -52.6 0 -1.51 1489.8 248.6)" d="M0.000 0.0L0.045 3.5L0.072 8.9L0.098 18.3L0.151 42.8L0.169 47.6L0.178 48.6L0.186 48.5L0.195 47.2L0.204 44.7L0.221 37.1L0.256 19.2L0.273 12.5L0.282 10.0L0.299 6.6L0.325 4.3L0.368 3.1L0.478 2.5L0.992 1.7L1.000 0.0Z" fill="url(#g3d)"/><path transform="matrix(98.7 -52.6 0 -1.51 1490.5 248.7)" d="M0.000 0.0L0.045 3.1L0.072 7.7L0.098 16.0L0.151 37.4L0.169 41.6L0.178 42.5L0.186 42.4L0.195 41.3L0.204 39.1L0.221 32.4L0.256 16.7L0.273 10.8L0.299 5.6L0.325 3.6L0.368 2.6L0.469 2.1L0.992 1.4L1.000 0.0Z" fill="url(#g3d)"/><path transform="matrix(97.8 -52.2 0 -1.51 1492.8 248.5)" d="M0.000 0.0L0.036 2.1L0.063 5.3L0.090 11.0L0.144 25.7L0.161 28.6L0.170 29.2L0.179 29.1L0.197 26.8L0.249 11.2L0.267 7.1L0.293 3.5L0.319 2.0L0.430 1.2L0.992 0.7L1.000 0.0Z" fill="url(#g3d)"/><path transform="matrix(97.7 -52.3 0 -1.51 1494.3 248.8)" d="M0.000 0.0L0.036 2.3L0.063 5.8L0.090 11.9L0.144 27.9L0.161 31.0L0.170 31.7L0.179 31.6L0.197 29.1L0.214 24.0L0.249 12.1L0.267 7.6L0.293 3.6L0.319 2.0L0.422 1.1L0.992 0.7L1.000 0.0Z"/><path transform="matrix(97.7 -52.3 0 -1.51 1495.6 249.1)" d="M0.000 0.0L0.036 2.5L0.063 6.3L0.090 12.9L0.144 30.2L0.161 33.6L0.170 34.3L0.179 34.2L0.197 31.5L0.214 26.0L0.249 13.2L0.267 8.3L0.293 4.0L0.319 2.3L0.353 1.6L0.430 1.3L0.992 0.8L1.000 0.0Z"/><path transform="matrix(97.6 -52.4 0 -1.51 1497.2 249.4)" d="M0.000 0.0L0.036 2.5L0.063 6.3L0.090 12.9L0.144 30.2L0.161 33.6L0.170 34.3L0.179 34.2L0.197 31.5L0.214 26.1L0.249 13.3L0.267 8.5L0.293 4.3L0.319 2.6L0.353 1.9L0.447 1.5L0.992 1.0L1.000 0.0Z"/><path transform="matrix(97.5 -52.4 0 -1.52 1498.6 249.7)" d="M0.000 0.0L0.036 2.5L0.063 6.3L0.090 12.9L0.144 30.2L0.161 33.6L0.170 34.3L0.179 34.2L0.197 31.5L0.214 26.1L0.249 13.3L0.267 8.5L0.293 4.2L0.319 2.6L0.353 1.8L0.439 1.5L0.992 0.9L1.000 0.0Z"/><path transform="matrix(97.5 -52.4 0 -1.52 1500.2 250.0)" d="M0.000 0.0L0.036 2.1L0.063 5.4L0.090 11.1L0.144 26.1L0.161 29.0L0.170 29.6L0.179 29.6L0.197 27.2L0.249 11.3L0.267 7.1L0.293 3.3L0.319 1.8L0.413 1.0L0.992 0.6L1.000 0.0Z" fill="url(#g3d)"/><path transform="matrix(53.4 -28.8 0 -1.52 1501.0 250.2)" d="M0.000 0.0L0.066 2.0L0.115 4.9L0.164 10.2L0.262 23.8L0.294 26.4L0.310 27.0L0.326 26.9L0.359 24.7L0.471 8.0L0.502 4.8L0.550 2.2L0.629 1.0L0.985 0.6L1.000 0.0Z" fill="url(#g3d)"/><path transform="matrix(35.2 -19.0 0 -1.52 1502.5 249.8)" d="M0.000 0.0L0.100 2.4L0.175 5.7L0.224 9.0L0.372 21.1L0.421 23.4L0.446 23.9L0.470 23.9L0.519 21.9L0.568 18.0L0.665 8.9L0.737 4.2L0.785 2.4L0.833 1.4L0.976 0.6L1.000 0.0Z"/><path transform="matrix(95.4 -52.8 0 -1.62 1528.9 255.2)" d="M0.000 0.0L0.037 2.4L0.055 4.3L0.082 8.8L0.136 20.7L0.154 23.0L0.172 23.6L0.181 23.0L0.198 20.2L0.243 10.1L0.260 7.0L0.287 4.5L0.313 3.5L0.519 2.2L0.992 1.5L1.000 0.0Z"/><path transform="matrix(97.1 -53.9 0 -1.62 1529.0 256.5)" d="M0.000 0.0L0.045 3.0L0.072 7.5L0.098 15.5L0.151 36.3L0.169 40.4L0.178 41.3L0.187 41.3L0.195 40.3L0.213 35.4L0.256 17.2L0.274 11.7L0.299 7.1L0.325 5.3L0.376 4.1L0.520 3.2L0.992 2.2L1.000 0.0Z" fill="url(#g3l)"/><path transform="matrix(97.0 -53.9 0 -1.62 1529.7 256.7)" d="M0.000 0.0L0.045 3.5L0.072 8.9L0.098 18.3L0.151 42.8L0.169 47.6L0.178 48.6L0.187 48.6L0.195 47.4L0.204 45.0L0.222 37.6L0.256 20.2L0.274 13.7L0.282 11.3L0.299 8.1L0.325 6.0L0.376 4.6L0.511 3.6L0.992 2.5L1.000 0.0Z" fill="url(#g3l)"/><path transform="matrix(97.9 -54.4 0 -1.62 1529.6 257.3)" d="M0.000 0.0L0.027 1.5L0.045 3.3L0.062 6.6L0.080 11.9L0.106 24.6L0.159 57.7L0.176 64.2L0.185 65.6L0.194 65.6L0.203 63.8L0.211 60.5L0.228 50.4L0.263 26.6L0.280 17.7L0.289 14.5L0.306 10.1L0.331 7.1L0.374 5.4L0.499 4.3L0.992 2.9L1.000 0.0Z" fill="url(#g3l)"/><path transform="matrix(97.8 -54.4 0 -1.62 1530.6 257.5)" d="M0.000 0.0L0.027 2.1L0.045 4.5L0.062 9.0L0.080 16.3L0.106 33.6L0.159 78.6L0.176 87.4L0.185 89.3L0.194 89.3L0.203 86.9L0.211 82.4L0.228 68.5L0.263 36.0L0.280 23.9L0.289 19.4L0.306 13.3L0.314 11.5L0.331 9.2L0.374 7.0L0.499 5.5L0.711 4.3L0.992 3.7L1.000 0.0Z" fill="url(#g3l)"/><path transform="matrix(98.7 -54.9 0 -1.62 1530.2 258.1)" d="M0.000 0.0L0.035 2.3L0.053 5.1L0.071 10.0L0.088 18.2L0.114 37.5L0.166 87.7L0.175 93.5L0.184 97.6L0.192 99.7L0.201 99.6L0.210 97.0L0.218 91.9L0.235 76.4L0.269 40.1L0.286 26.5L0.295 21.5L0.312 14.7L0.320 12.7L0.337 10.1L0.354 8.7L0.379 7.6L0.503 6.0L0.713 4.7L0.992 4.0L1.000 0.0Z" fill="url(#g3l)"/><path transform="matrix(98.6 -55.0 0 -1.62 1531.7 258.4)" d="M0.000 0.0L0.035 3.2L0.053 6.9L0.071 13.6L0.088 24.6L0.114 50.8L0.166 118.8L0.175 126.7L0.184 132.2L0.192 135.0L0.201 134.9L0.210 131.3L0.218 124.4L0.235 103.4L0.269 54.1L0.286 35.6L0.295 28.8L0.312 19.5L0.320 16.7L0.337 13.2L0.354 11.3L0.379 9.8L0.495 7.9L0.705 6.1L0.992 5.2L1.000 0.0Z" fill="url(#g3l)"/><path transform="matrix(98.6 -55.0 0 -1.62 1532.3 258.5)" d="M0.000 0.0L0.035 3.5L0.053 7.5L0.071 14.9L0.088 27.0L0.114 55.6L0.166 130.2L0.175 138.9L0.184 144.9L0.192 148.0L0.201 147.9L0.210 143.9L0.218 136.4L0.235 113.3L0.269 59.2L0.286 38.9L0.295 31.4L0.312 21.3L0.320 18.2L0.337 14.3L0.354 12.2L0.379 10.7L0.495 8.5L0.705 6.6L0.992 5.6L1.000 0.0Z"/><path transform="matrix(98.5 -55.0 0 -1.62 1533.2 258.7)" d="M0.000 0.0L0.035 2.9L0.053 6.4L0.071 12.6L0.088 22.8L0.114 47.1L0.166 110.1L0.175 117.4L0.184 122.5L0.192 125.2L0.201 125.1L0.210 121.7L0.218 115.3L0.235 95.8L0.269 49.9L0.286 32.8L0.295 26.4L0.312 17.8L0.320 15.2L0.337 11.9L0.354 10.1L0.379 8.8L0.495 7.0L0.705 5.5L0.992 4.7L1.000 0.0Z" fill="url(#g3d)"/><path transform="matrix(97.6 -54.6 0 -1.62 1535.6 258.5)" d="M0.000 0.0L0.027 2.1L0.045 4.5L0.062 9.0L0.080 16.3L0.106 33.6L0.159 78.6L0.176 87.4L0.185 89.3L0.194 89.2L0.203 86.8L0.211 82.2L0.229 68.2L0.263 35.4L0.280 23.1L0.289 18.5L0.306 12.4L0.314 10.5L0.331 8.1L0.374 5.9L0.482 4.8L0.992 3.1L1.000 0.0Z" fill="url(#g3d)"/><path transform="matrix(97.5 -54.6 0 -1.62 1536.9 258.8)" d="M0.000 0.0L0.027 1.5L0.045 3.2L0.062 6.3L0.080 11.5L0.106 23.7L0.159 55.4L0.176 61.7L0.185 63.0L0.194 62.9L0.203 61.2L0.211 57.9L0.229 47.9L0.263 24.5L0.280 15.7L0.289 12.5L0.306 8.0L0.331 4.9L0.365 3.6L0.458 2.9L0.992 1.8L1.000 0.0Z" fill="url(#g3d)"/><path transform="matrix(116.0 -65.1 0 -1.62 1520.1 269.6)" d="M0.000 0.0L0.039 1.8L0.069 4.3L0.100 8.6L0.130 14.9L0.153 21.5L0.175 30.2L0.249 67.4L0.272 74.0L0.286 75.4L0.294 74.7L0.301 72.4L0.308 68.7L0.323 57.9L0.352 32.5L0.374 18.1L0.388 12.3L0.395 10.4L0.410 8.1L0.424 7.1L0.467 6.0L0.579 4.7L0.994 3.1L1.000 0.0Z" fill="url(#g3l)"/><path transform="matrix(116.8 -65.7 0 -1.62 1520.7 270.4)" d="M0.000 0.0L0.046 2.6L0.076 6.1L0.107 11.6L0.137 19.3L0.159 26.9L0.181 36.5L0.255 77.4L0.270 82.8L0.277 84.6L0.292 86.1L0.299 85.2L0.306 82.6L0.314 78.3L0.328 66.1L0.357 37.4L0.379 21.4L0.393 15.0L0.400 12.9L0.414 10.4L0.428 9.5L0.478 8.0L0.603 6.2L0.772 5.0L0.994 4.3L1.000 0.0Z" fill="url(#g3d)"/><path transform="matrix(115.9 -65.2 0 -1.62 1523.1 270.2)" d="M0.000 0.0L0.039 2.2L0.069 4.9L0.100 9.2L0.130 14.9L0.153 20.2L0.175 26.8L0.249 54.8L0.272 59.7L0.286 60.6L0.294 60.0L0.308 55.1L0.323 46.6L0.352 26.6L0.367 18.7L0.381 13.2L0.388 11.3L0.403 9.0L0.417 8.0L0.474 6.8L0.600 5.2L0.994 3.7L1.000 0.0Z" fill="url(#g3d)"/><path transform="matrix(114.9 -64.8 0 -1.62 1524.9 269.9)" d="M0.000 0.0L0.062 3.6L0.093 6.7L0.123 10.7L0.146 14.3L0.169 18.9L0.244 38.0L0.266 41.3L0.281 42.0L0.288 41.5L0.303 38.1L0.347 18.6L0.362 13.1L0.376 9.4L0.398 6.6L0.477 5.1L0.611 3.9L0.994 2.8L1.000 0.0Z" fill="url(#g3d)"/><path transform="matrix(113.1 -63.8 0 -1.62 1527.3 269.0)" d="M0.000 0.0L0.078 3.6L0.140 9.0L0.186 16.2L0.254 30.8L0.277 33.3L0.292 32.3L0.307 29.0L0.344 15.9L0.366 9.6L0.381 7.0L0.403 5.2L0.461 4.0L0.591 3.1L0.993 2.2L1.000 0.0Z" fill="url(#g3d)"/><path transform="matrix(29.2 -19.2 0 -1.63 1681.1 286.8)" d="M0.000 0.0L0.111 2.0L0.193 5.2L0.275 10.6L0.439 24.9L0.493 27.7L0.520 28.2L0.547 28.1L0.601 25.7L0.655 21.1L0.762 10.1L0.841 4.4L0.894 2.2L1.000 0.0Z" fill="url(#g3l)"/><path transform="matrix(29.2 -19.2 0 -1.63 1682.7 287.2)" d="M0.000 0.0L0.111 2.7L0.193 6.7L0.275 13.9L0.385 26.7L0.439 32.5L0.493 36.1L0.520 36.8L0.547 36.7L0.574 35.6L0.601 33.6L0.655 27.5L0.762 13.2L0.815 7.8L0.841 5.7L0.894 2.8L1.000 0.0Z" fill="url(#g3l)"/><path transform="matrix(30.0 -19.7 0 -1.63 1682.8 287.9)" d="M0.000 0.0L0.135 3.0L0.215 7.5L0.295 15.6L0.401 30.0L0.454 36.4L0.507 40.5L0.533 41.3L0.559 41.2L0.585 40.0L0.612 37.7L0.664 30.9L0.768 14.8L0.820 8.7L0.846 6.4L0.897 3.2L1.000 0.0Z" fill="url(#g3l)"/><path transform="matrix(33.0 -21.7 0 -1.63 1683.6 288.0)" d="M0.000 0.0L0.122 3.4L0.195 8.5L0.219 11.0L0.268 17.5L0.364 33.7L0.412 41.0L0.460 45.6L0.484 46.5L0.507 46.3L0.531 45.0L0.555 42.5L0.602 34.8L0.697 16.9L0.744 10.1L0.767 7.6L0.814 4.0L0.861 2.1L1.000 0.0Z" fill="url(#g3l)"/><path transform="matrix(89.5 -59.0 0 -1.63 1685.2 288.4)" d="M0.000 0.0L0.027 2.0L0.045 4.1L0.072 10.4L0.099 21.5L0.152 50.4L0.170 56.1L0.178 57.2L0.187 57.1L0.196 55.4L0.205 52.4L0.222 43.1L0.257 21.3L0.274 13.1L0.283 10.0L0.300 5.7L0.326 2.7L0.352 1.7L0.386 1.4L0.992 0.8L1.000 0.0Z" fill="url(#g3l)"/><path transform="matrix(90.2 -59.6 0 -1.63 1686.1 289.2)" d="M0.000 0.0L0.027 1.6L0.045 3.5L0.063 6.8L0.080 12.4L0.107 25.6L0.160 59.8L0.177 66.6L0.186 68.0L0.194 67.8L0.203 65.9L0.212 62.3L0.229 51.3L0.264 25.6L0.281 15.9L0.289 12.2L0.307 7.2L0.332 3.7L0.358 2.5L0.391 2.1L0.992 1.1L1.000 0.0Z" fill="url(#g3l)"/><path transform="matrix(90.1 -59.6 0 -1.63 1686.8 289.4)" d="M0.000 0.0L0.027 1.7L0.045 3.7L0.063 7.3L0.080 13.2L0.107 27.3L0.160 63.9L0.177 71.1L0.186 72.5L0.194 72.4L0.203 70.3L0.212 66.5L0.229 54.8L0.264 27.4L0.281 17.0L0.289 13.2L0.307 7.8L0.332 4.1L0.358 2.8L0.391 2.3L0.992 1.3L1.000 0.0Z" fill="url(#g3l)"/><path transform="matrix(90.1 -59.7 0 -1.63 1687.8 289.6)" d="M0.000 0.0L0.027 1.9L0.045 4.0L0.063 8.0L0.080 14.4L0.107 29.8L0.160 69.7L0.177 77.5L0.186 79.1L0.194 79.0L0.203 76.7L0.212 72.5L0.229 59.8L0.264 30.0L0.281 18.7L0.289 14.5L0.307 8.7L0.315 6.9L0.332 4.7L0.358 3.2L0.400 2.6L0.992 1.5L1.000 0.0Z" fill="url(#g3l)"/><path transform="matrix(90.0 -59.7 0 -1.63 1689.4 289.9)" d="M0.000 0.0L0.027 2.1L0.045 4.6L0.063 9.1L0.080 16.5L0.107 34.1L0.160 79.8L0.168 85.1L0.177 88.8L0.186 90.6L0.194 90.5L0.203 87.9L0.212 83.1L0.229 68.6L0.264 34.5L0.281 21.6L0.289 16.8L0.307 10.2L0.315 8.1L0.332 5.6L0.366 3.7L0.425 3.1L0.992 1.8L1.000 0.0Z" fill="url(#g3l)"/><path transform="matrix(90.8 -60.3 0 -1.63 1689.5 290.6)" d="M0.000 0.0L0.036 2.3L0.053 4.9L0.071 9.7L0.088 17.6L0.115 36.3L0.167 84.9L0.176 90.5L0.184 94.5L0.193 96.4L0.202 96.2L0.210 93.5L0.219 88.4L0.236 73.0L0.270 36.8L0.287 23.1L0.296 18.0L0.313 11.0L0.321 8.8L0.338 6.1L0.372 4.1L0.430 3.4L0.992 2.0L1.000 0.0Z" fill="url(#g3l)"/><path transform="matrix(90.7 -60.3 0 -1.63 1690.3 290.8)" d="M0.000 0.0L0.036 2.3L0.053 4.9L0.071 9.7L0.088 17.6L0.115 36.3L0.167 84.9L0.176 90.5L0.184 94.5L0.193 96.4L0.202 96.3L0.210 93.6L0.219 88.5L0.236 73.1L0.270 37.0L0.287 23.3L0.296 18.2L0.313 11.3L0.321 9.1L0.338 6.4L0.372 4.4L0.439 3.7L0.992 2.2L1.000 0.0Z" fill="url(#g3l)"/><path transform="matrix(90.6 -60.4 0 -1.63 1692.0 291.1)" d="M0.000 0.0L0.036 2.3L0.053 4.9L0.071 9.7L0.088 17.6L0.115 36.3L0.167 84.9L0.176 90.5L0.184 94.5L0.193 96.5L0.202 96.3L0.210 93.7L0.219 88.7L0.236 73.4L0.270 37.6L0.287 24.2L0.296 19.1L0.313 12.3L0.321 10.2L0.338 7.6L0.372 5.5L0.463 4.5L0.682 3.4L0.992 2.8L1.000 0.0Z" fill="url(#g3l)"/><path transform="matrix(90.6 -60.4 0 -1.63 1692.9 291.3)" d="M0.000 0.0L0.036 2.3L0.053 4.9L0.071 9.7L0.088 17.6L0.115 36.3L0.167 84.9L0.176 90.5L0.184 94.5L0.193 96.5L0.202 96.4L0.210 93.8L0.219 88.8L0.236 73.6L0.270 38.1L0.287 24.7L0.296 19.8L0.313 13.1L0.321 11.0L0.338 8.4L0.355 7.1L0.380 6.1L0.480 5.0L0.698 3.8L0.992 3.2L1.000 0.0Z" fill="url(#g3l)"/><path transform="matrix(90.5 -60.4 0 -1.63 1693.6 291.5)" d="M0.000 0.0L0.036 2.5L0.053 5.4L0.071 10.7L0.088 19.4L0.115 40.0L0.167 93.7L0.176 99.9L0.184 104.2L0.193 106.5L0.202 106.3L0.210 103.4L0.219 98.0L0.236 81.2L0.270 42.0L0.287 27.2L0.296 21.8L0.313 14.4L0.321 12.1L0.338 9.2L0.355 7.7L0.380 6.7L0.480 5.4L0.698 4.2L0.992 3.5L1.000 0.0Z" fill="url(#g3l)"/><path transform="matrix(90.5 -60.5 0 -1.63 1695.3 291.8)" d="M0.000 0.0L0.036 3.1L0.053 6.6L0.071 13.1L0.088 23.7L0.115 48.9L0.167 114.5L0.176 122.1L0.184 127.4L0.193 130.1L0.202 130.0L0.210 126.4L0.219 119.7L0.236 99.2L0.270 51.2L0.287 33.2L0.296 26.5L0.313 17.4L0.321 14.6L0.338 11.2L0.355 9.3L0.380 8.0L0.480 6.6L0.698 5.0L0.992 4.2L1.000 0.0Z" fill="url(#g3l)"/><path transform="matrix(90.4 -60.5 0 -1.63 1696.4 292.0)" d="M0.000 0.0L0.036 3.4L0.053 7.4L0.071 14.6L0.089 26.4L0.115 54.4L0.167 127.4L0.176 135.9L0.184 141.8L0.193 144.8L0.202 144.6L0.210 140.7L0.219 133.2L0.236 110.4L0.270 57.0L0.287 36.9L0.296 29.5L0.313 19.3L0.321 16.2L0.338 12.4L0.355 10.3L0.380 8.9L0.480 7.2L0.698 5.5L0.992 4.7L1.000 0.0Z" fill="url(#g3d)"/><path transform="matrix(90.4 -60.5 0 -1.63 1697.0 292.2)" d="M0.000 0.0L0.036 3.0L0.053 6.6L0.071 13.0L0.089 23.6L0.115 48.6L0.167 113.7L0.176 121.3L0.184 126.5L0.193 129.2L0.202 129.1L0.210 125.5L0.219 118.9L0.236 98.5L0.270 50.8L0.287 32.8L0.296 26.2L0.313 17.1L0.321 14.3L0.338 10.9L0.355 9.1L0.380 7.8L0.480 6.3L0.698 4.8L0.992 4.1L1.000 0.0Z" fill="url(#g3d)"/><path transform="matrix(89.5 -60.0 0 -1.63 1699.5 292.0)" d="M0.000 0.0L0.027 2.1L0.045 4.5L0.063 8.9L0.080 16.1L0.107 33.2L0.160 77.7L0.177 86.5L0.186 88.3L0.195 88.2L0.203 85.7L0.212 81.2L0.229 67.2L0.264 34.5L0.281 22.1L0.290 17.6L0.307 11.3L0.315 9.4L0.332 7.0L0.349 5.8L0.375 4.9L0.467 4.1L0.992 2.6L1.000 0.0Z" fill="url(#g3d)"/><path transform="matrix(88.6 -59.6 0 -1.63 1702.0 291.8)" d="M0.000 0.0L0.045 3.4L0.072 8.6L0.099 17.8L0.152 41.7L0.170 46.4L0.178 47.4L0.187 47.3L0.196 45.9L0.205 43.5L0.222 35.9L0.257 18.1L0.274 11.4L0.283 8.9L0.300 5.5L0.326 3.1L0.360 2.1L0.428 1.8L0.992 1.1L1.000 0.0Z" fill="url(#g3d)"/><path transform="matrix(87.7 -59.1 0 -1.63 1704.3 291.6)" d="M0.000 0.0L0.036 2.3L0.064 5.8L0.091 12.0L0.144 28.1L0.162 31.2L0.171 31.9L0.180 31.8L0.198 29.3L0.215 24.2L0.250 12.3L0.268 7.9L0.294 3.9L0.320 2.3L0.440 1.4L0.992 0.8L1.000 0.0Z" fill="url(#g3d)"/><path transform="matrix(88.4 -59.7 0 -1.63 1705.3 292.5)" d="M0.000 0.0L0.045 2.8L0.072 7.1L0.099 14.6L0.152 34.2L0.170 38.0L0.178 38.8L0.187 38.7L0.196 37.6L0.205 35.6L0.222 29.3L0.257 14.6L0.274 9.0L0.300 4.1L0.326 2.1L0.386 1.2L0.992 0.6L1.000 0.0Z"/><path transform="matrix(53.3 -36.0 0 -1.63 1706.3 292.7)" d="M0.000 0.0L0.075 3.1L0.119 7.8L0.164 16.0L0.252 37.5L0.281 41.7L0.296 42.5L0.310 42.4L0.325 41.2L0.339 38.9L0.368 32.0L0.412 19.5L0.441 12.4L0.469 7.3L0.512 3.1L0.555 1.5L0.598 1.0L0.986 0.6L1.000 0.0Z" fill="url(#g3d)"/><path transform="matrix(34.0 -23.0 0 -1.63 1707.8 292.3)" d="M0.000 0.0L0.094 2.6L0.163 6.7L0.233 13.7L0.371 32.1L0.417 35.7L0.439 36.5L0.462 36.4L0.485 35.3L0.508 33.3L0.553 27.4L0.621 16.7L0.666 10.6L0.689 8.1L0.733 4.6L0.778 2.5L0.823 1.4L0.978 0.6L1.000 0.0Z" fill="url(#g3d)"/><path transform="matrix(27.2 -18.4 0 -1.63 1710.3 292.1)" d="M0.000 0.0L0.117 2.3L0.204 5.3L0.262 8.4L0.435 19.7L0.492 21.9L0.520 22.3L0.549 22.3L0.606 20.4L0.663 16.7L0.776 8.0L0.832 4.7L0.888 2.5L1.000 0.0Z"/></g>
<path d="M1713 239h0M1718 177h0M1723 255h0M1721 263h0M1715 200h0M1702 261h0M1706 246h0M1710 245h0M1711 252h0M1725 249h0M1713 233h0M1715 201h0M1722 220h0M1710 243h0M1708 146h0M1721 249h0M1721 235h0M1707 263h0M1721 270h0M1703 266h0M1717 226h0M1708 218h0M1716 221h0M1543 181h0M1555 196h0M1551 125h0M1552 205h0M1545 172h0M1558 174h0M1559 178h0M1545 217h0M1539 227h0M1545 150h0M1549 185h0M1545 162h0M1560 175h0M1546 221h0M1545 196h0M1549 237h0M1545 223h0M1543 224h0M1559 163h0M1539 239h0M1552 216h0M1550 175h0M1558 168h0M1556 192h0M1553 231h0M1464 219h0M1488 210h0M1481 128h0M1492 219h0M1478 199h0M1485 200h0M1478 191h0M1477 97h0M1486 157h0M1479 130h0M1476 210h0M1465 232h0M1476 166h0M1476 143h0M1482 119h0M1487 136h0M1471 183h0M1466 212h0M1478 99h0M1483 150h0M1463 218h0M1474 181h0M1497 219h0M1488 176h0M1500 206h0M1499 185h0M1484 184h0M1494 183h0M1491 165h0M1477 232h0M1491 208h0M1488 184h0M1483 132h0M1496 199h0M1512 200h0M1496 190h0M1500 201h0M1500 199h0M1504 154h0M1508 218h0M1502 209h0M1507 215h0M1470 206h0M1458 184h0M1456 208h0M1468 180h0M1461 171h0M1471 178h0M1468 208h0M1462 172h0M1454 197h0M1450 177h0M1453 202h0M1456 218h0M1443 218h0M1452 214h0" stroke="#243018" stroke-width="3" stroke-linecap="round" fill="none" opacity="0.6"/>
<path d="M1192 83V381M1183 114H1192M1183 144.4H1192M1183 175H1192M1183 205.2H1192M1183 265H1192M1183 293.5H1192M1183 323H1192M1183 351H1192M1174 235.6H1192M1174 381H1192" stroke="#333" stroke-width="4.2" fill="none"/>
<path d="M1192 381.3L1683.5 471.2L1696.5 471M1198.1 382.5l-0.8 6.4M1199.3 382.5l-1.4 5M1210.9 384.8l-0.8 6.4M1212.1 384.8l-1.4 5M1223.8 387.2l-0.8 6.4M1225.0 387.2l-1.4 5M1237.5 389.6l-1 6l-2.5 6.5M1250.1 392.0l-0.8 6.4M1251.3 392.0l-1.4 5M1263.4 394.4l-0.8 6.4M1264.6 394.4l-1.4 5M1276.8 396.8l-0.8 6.4M1278.0 396.8l-1.4 5M1290.4 399.3l-0.8 6.4M1291.6 399.3l-1.4 5M1304.1 401.8l-0.8 6.4M1305.3 401.8l-1.4 5M1317.9 404.3l-0.8 6.4M1319.1 404.3l-1.4 5M1331.8 406.8l-0.8 6.4M1333.0 406.8l-1.4 5M1345.9 409.3l-0.8 6.4M1347.1 409.3l-1.4 5M1360.1 411.9l-0.8 6.4M1361.3 411.9l-1.4 5M1375.0 414.5l-1 6l-2.5 6.5M1388.8 417.1l-0.8 6.4M1390.0 417.1l-1.4 5M1403.4 419.8l-0.8 6.4M1404.6 419.8l-1.4 5M1418.1 422.4l-0.8 6.4M1419.3 422.4l-1.4 5M1432.9 425.1l-0.8 6.4M1434.1 425.1l-1.4 5M1447.8 427.8l-0.8 6.4M1449.0 427.8l-1.4 5M1462.9 430.6l-0.8 6.4M1464.1 430.6l-1.4 5M1478.1 433.3l-0.8 6.4M1479.3 433.3l-1.4 5M1493.4 436.1l-0.8 6.4M1494.6 436.1l-1.4 5M1508.8 438.9l-0.8 6.4M1510.0 438.9l-1.4 5M1525.0 441.7l-1 6l-2.5 6.5M1540.1 444.6l-0.8 6.4M1541.3 444.6l-1.4 5M1555.9 447.5l-0.8 6.4M1557.1 447.5l-1.4 5M1571.8 450.3l-0.8 6.4M1573.0 450.3l-1.4 5M1587.9 453.3l-0.8 6.4M1589.1 453.3l-1.4 5M1604.1 456.2l-0.8 6.4M1605.3 456.2l-1.4 5M1620.4 459.2l-0.8 6.4M1621.6 459.2l-1.4 5M1636.8 462.1l-0.8 6.4M1638.0 462.1l-1.4 5M1653.4 465.2l-0.8 6.4M1654.6 465.2l-1.4 5M1670.1 468.2l-0.8 6.4M1671.3 468.2l-1.4 5M1696.5 471L1907.4 330.0M1722.8 453.5l2.2 3.2M1747.0 437.4l8 10.5M1770.2 421.9l2.2 3.2M1792.6 407.0l3.5 5M1814.0 392.7l2.2 3.2M1834.5 379.0l3.5 5M1854.1 365.9l2.2 3.2M1872.8 353.3l3.5 5M1890.5 341.4l2.2 3.2M1907.4 330.0l8 10.5M1904.4 332.0l6.5 -5" stroke="#333" stroke-width="3" fill="none" stroke-linejoin="round"/>
<text transform="matrix(0.4301 0.0000 0.0000 0.2958 1107.71 128.70)" font-family='"Liberation Sans", sans-serif' font-weight="bold" font-size="100" fill="#15152e">90</text>
<text transform="matrix(0.4119 0.0000 0.0000 0.2887 1107.76 244.21)" font-family='"Liberation Sans", sans-serif' font-weight="bold" font-size="100" fill="#15152e">95</text>
<text transform="matrix(0.4007 0.0000 0.0000 0.2887 1093.60 393.21)" font-family='"Liberation Sans", sans-serif' font-weight="bold" font-size="100" fill="#15152e">100</text>
<text transform="matrix(0.4087 0.0000 0.0000 0.2887 1170.55 435.21)" font-family='"Liberation Sans", sans-serif' font-weight="bold" font-size="100" fill="#15152e">1000</text>
<text transform="matrix(0.4262 0.0000 0.0000 0.2887 1300.72 461.21)" font-family='"Liberation Sans", sans-serif' font-weight="bold" font-size="100" fill="#15152e">2000</text>
<text transform="matrix(0.4127 0.0000 0.0000 0.2817 1457.67 485.72)" font-family='"Liberation Sans", sans-serif' font-weight="bold" font-size="100" fill="#15152e">3000</text>
<text transform="matrix(0.3986 0.0000 0.0000 0.2859 1760.11 469.71)" font-family='"Liberation Sans", sans-serif' font-weight="bold" font-size="100" fill="#15152e">10</text>
<text transform="matrix(0.4166 0.0000 0.0000 0.2887 1845.87 409.21)" font-family='"Liberation Sans", sans-serif' font-weight="bold" font-size="100" fill="#15152e">30</text>
<text transform="matrix(0.4101 0.0000 0.0000 0.3000 1919.47 365.50)" font-family='"Liberation Sans", sans-serif' font-weight="bold" font-size="100" fill="#15152e">50</text>
<g filter="url(#soft2)" stroke="#000" stroke-width="2.6" stroke-linejoin="round">
<text transform="matrix(0.0000 -0.2838 0.2641 0.0000 1082.09 358.68)" font-family='"Liberation Serif", serif' font-weight="bold" font-size="100" fill="#000">Transmittance(%)</text>
<text transform="translate(1279.82 502.60) rotate(3.7) scale(0.2765)" font-family='"Liberation Serif", serif' font-weight="bold" font-size="100" fill="#000">Wavenumber (cm<tspan font-size="60" dy="-38">-1</tspan><tspan dy="38">)</tspan></text>
<text transform="translate(1822 487.5) rotate(-31.3) scale(0.2794)" font-family='"Liberation Serif", serif' font-weight="bold" font-size="100">Time (minute)</text>
</g>
<text transform="matrix(0.7620 0.0000 0.0000 0.7043 1031.55 83.90)" font-family='"Liberation Serif", serif' font-weight="bold" font-size="100" fill="#000">(b)</text>
<rect x="162.4" y="562.3" width="828.8000000000001" height="668.2" fill="none" stroke="#2e2e2e" stroke-width="4.4"/>
<path d="M327 1230.5v-13M327 562.3v13M493 1230.5v-13M493 562.3v13M659.2 1230.5v-13M659.2 562.3v13M825 1230.5v-13M825 562.3v13M162.4 684.3h13M991.2 684.3h-13M162.4 805.4h13M991.2 805.4h-13M162.4 926.9h13M991.2 926.9h-13M162.4 1048.4h13M991.2 1048.4h-13M162.4 1169.7h13M991.2 1169.7h-13" stroke="#2e2e2e" stroke-width="3.6" fill="none"/>
<text transform="matrix(0.2864 0.0000 0.0000 0.2794 97.34 692.94)" font-family='"Liberation Serif", serif' font-weight="bold" font-size="100" fill="#000">0.08</text>
<text transform="matrix(0.2847 0.0000 0.0000 0.2794 97.35 814.04)" font-family='"Liberation Serif", serif' font-weight="bold" font-size="100" fill="#000">0.06</text>
<text transform="matrix(0.2830 0.0000 0.0000 0.2794 97.35 935.54)" font-family='"Liberation Serif", serif' font-weight="bold" font-size="100" fill="#000">0.04</text>
<text transform="matrix(0.2881 0.0000 0.0000 0.2794 97.34 1057.04)" font-family='"Liberation Serif", serif' font-weight="bold" font-size="100" fill="#000">0.02</text>
<text transform="matrix(0.2864 0.0000 0.0000 0.2794 97.34 1178.34)" font-family='"Liberation Serif", serif' font-weight="bold" font-size="100" fill="#000">0.00</text>
<text transform="matrix(0.2864 0.0000 0.0000 0.2794 97.34 571.14)" font-family='"Liberation Serif", serif' font-weight="bold" font-size="100" fill="#000">0.10</text>
<text transform="matrix(0.3000 0.0000 0.0000 0.2794 154.10 1267.64)" font-family='"Liberation Serif", serif' font-weight="bold" font-size="100" fill="#000">0</text>
<text transform="matrix(0.2899 0.0000 0.0000 0.2794 312.98 1267.64)" font-family='"Liberation Serif", serif' font-weight="bold" font-size="100" fill="#000">10</text>
<text transform="matrix(0.2774 0.0000 0.0000 0.2794 478.99 1267.64)" font-family='"Liberation Serif", serif' font-weight="bold" font-size="100" fill="#000">20</text>
<text transform="matrix(0.2745 0.0000 0.0000 0.2794 644.88 1267.64)" font-family='"Liberation Serif", serif' font-weight="bold" font-size="100" fill="#000">30</text>
<text transform="matrix(0.2687 0.0000 0.0000 0.2794 812.23 1267.64)" font-family='"Liberation Serif", serif' font-weight="bold" font-size="100" fill="#000">40</text>
<text transform="matrix(0.2774 0.0000 0.0000 0.2794 976.99 1267.64)" font-family='"Liberation Serif", serif' font-weight="bold" font-size="100" fill="#000">50</text>
<path d="M163.0 1169.5 C169.2 1169.4 186.3 1169.0 200.0 1168.8 C213.7 1168.6 230.0 1168.6 245.0 1168.3 C260.0 1168.0 276.3 1167.5 290.0 1167.2 C303.7 1166.9 313.7 1166.7 327.0 1166.6 C340.3 1166.5 356.2 1166.9 370.0 1166.8 C383.8 1166.7 396.7 1166.2 410.0 1166.0 C423.3 1165.8 436.0 1166.0 450.0 1165.8 C464.0 1165.5 482.3 1164.8 494.0 1164.5 C505.7 1164.2 511.5 1164.0 520.0 1163.8 C528.5 1163.5 538.3 1163.2 545.0 1163.0 C551.7 1162.8 556.3 1162.4 560.0 1162.4 C563.7 1162.4 563.3 1163.4 567.4 1163.2 C571.5 1163.0 579.3 1162.0 584.7 1161.5 C590.1 1161.0 595.9 1160.6 600.0 1160.2 C604.1 1159.8 605.8 1160.0 609.4 1159.0 C613.0 1158.0 617.6 1156.9 621.7 1154.0 C625.8 1151.1 630.3 1147.0 634.0 1141.7 C637.7 1136.4 641.0 1129.4 643.9 1122.0 C646.8 1114.6 648.8 1106.3 651.3 1097.3 C653.8 1088.2 656.2 1079.2 658.7 1067.7 C661.2 1056.2 663.8 1041.4 666.1 1028.2 C668.4 1015.0 670.3 1003.5 672.3 988.7 C674.3 973.9 676.5 956.7 678.2 939.4 C679.9 922.1 681.2 902.2 682.5 885.0 C683.8 867.8 684.7 851.1 685.9 836.4 C687.1 821.7 688.4 810.2 689.6 797.0 C690.8 783.8 692.1 770.6 693.3 757.4 C694.5 744.2 695.6 731.6 697.0 718.0 C698.4 704.4 700.0 688.3 701.9 676.0 C703.8 663.7 706.7 651.5 708.1 644.0 C709.5 636.5 709.6 634.2 710.3 631.0 C711.0 627.8 711.6 626.0 712.3 624.6 C712.9 623.2 713.6 622.6 714.2 622.6 C714.8 622.6 715.5 623.2 716.0 624.6 C716.5 626.0 716.9 627.8 717.3 631.0 C717.7 634.2 717.6 636.5 718.3 644.0 C719.0 651.5 720.4 663.7 721.6 676.0 C722.8 688.3 724.3 704.4 725.4 718.0 C726.5 731.6 727.3 744.2 728.3 757.4 C729.3 770.6 730.5 783.8 731.5 797.0 C732.5 810.2 733.2 821.7 734.0 836.4 C734.8 851.1 735.4 867.8 736.2 885.0 C737.0 902.2 737.6 922.1 738.9 939.4 C740.2 956.7 742.0 973.9 743.9 988.7 C745.8 1003.5 747.8 1017.5 750.0 1028.2 C752.2 1038.9 754.1 1045.1 757.4 1052.9 C760.7 1060.7 765.7 1069.2 769.8 1075.0 C773.9 1080.8 775.9 1082.7 782.1 1087.4 C788.3 1092.2 798.6 1099.0 806.8 1103.5 C815.0 1108.0 823.3 1111.3 831.5 1114.6 C839.7 1117.9 848.0 1120.7 856.2 1123.2 C864.4 1125.7 872.6 1127.5 880.8 1129.4 C889.0 1131.3 895.6 1133.1 905.5 1134.8 C915.4 1136.5 929.7 1137.9 940.0 1139.8 C950.3 1141.7 959.0 1144.7 967.2 1146.2 C975.4 1147.7 985.7 1148.2 989.4 1148.6" fill="none" stroke="#1c1c1c" stroke-width="3.1" stroke-linejoin="round" stroke-linecap="round"/>
<path d="M211 630.4H282.7" stroke="#2a2a2a" stroke-width="3"/>
<text transform="matrix(0.3526 0.0000 0.0000 0.3485 290.89 642.10)" font-family='"Liberation Serif", serif' font-weight="bold" font-size="100" fill="#000">G-S</text>
<text transform="matrix(0.7645 0.0000 0.0000 0.7196 4.24 609.97)" font-family='"Liberation Serif", serif' font-weight="bold" font-size="100" fill="#000">(c)</text>
<text transform="matrix(0.0000 -0.3418 0.3556 0.0000 59.23 941.73)" font-family='"Liberation Serif", serif' font-weight="bold" font-size="100" fill="#000">Intensity</text>
<text transform="matrix(0.3492 0.0000 0.0000 0.3492 493.25 1321.60)" font-family='"Liberation Serif", serif' font-weight="bold" font-size="100" fill="#000">Time (min)</text>
<rect x="1161" y="562.5" width="830.2" height="656.5" fill="none" stroke="#2e2e2e" stroke-width="4.4"/>
<path d="M1282.3 1219v-11.5M1282.3 562.5v11.5M1404.3 1219v-11.5M1404.3 562.5v11.5M1526.3 1219v-11.5M1526.3 562.5v11.5M1648.9 1219v-11.5M1648.9 562.5v11.5M1770.5 1219v-11.5M1770.5 562.5v11.5M1893 1219v-11.5M1893 562.5v11.5M1161 644.5h11.5M1991.2 644.5h-11.5M1161 727h11.5M1991.2 727h-11.5M1161 808.8h11.5M1991.2 808.8h-11.5M1161 891h11.5M1991.2 891h-11.5M1161 973h11.5M1991.2 973h-11.5M1161 1055.5h11.5M1991.2 1055.5h-11.5M1161 1137.5h11.5M1991.2 1137.5h-11.5" stroke="#2e2e2e" stroke-width="3.6" fill="none"/>
<text transform="matrix(0.2929 0.0000 0.0000 0.2776 1104.66 652.92)" font-family='"Liberation Serif", serif' font-weight="bold" font-size="100" fill="#000">115</text>
<text transform="matrix(0.2929 0.0000 0.0000 0.2735 1104.66 735.15)" font-family='"Liberation Serif", serif' font-weight="bold" font-size="100" fill="#000">110</text>
<text transform="matrix(0.2813 0.0000 0.0000 0.2735 1104.75 816.95)" font-family='"Liberation Serif", serif' font-weight="bold" font-size="100" fill="#000">105</text>
<text transform="matrix(0.2813 0.0000 0.0000 0.2735 1104.75 899.15)" font-family='"Liberation Serif", serif' font-weight="bold" font-size="100" fill="#000">100</text>
<text transform="matrix(0.2926 0.0000 0.0000 0.2735 1117.71 981.15)" font-family='"Liberation Serif", serif' font-weight="bold" font-size="100" fill="#000">95</text>
<text transform="matrix(0.2926 0.0000 0.0000 0.2735 1117.71 1063.65)" font-family='"Liberation Serif", serif' font-weight="bold" font-size="100" fill="#000">90</text>
<text transform="matrix(0.2957 0.0000 0.0000 0.2735 1117.41 1145.65)" font-family='"Liberation Serif", serif' font-weight="bold" font-size="100" fill="#000">85</text>
<text transform="matrix(0.2813 0.0000 0.0000 0.2735 1104.75 570.45)" font-family='"Liberation Serif", serif' font-weight="bold" font-size="100" fill="#000">120</text>
<text transform="matrix(0.2957 0.0000 0.0000 0.2735 1117.41 1227.15)" font-family='"Liberation Serif", serif' font-weight="bold" font-size="100" fill="#000">80</text>
<text transform="matrix(0.2796 0.0000 0.0000 0.2706 1132.72 1255.66)" font-family='"Liberation Serif", serif' font-weight="bold" font-size="100" fill="#000">4000</text>
<text transform="matrix(0.2825 0.0000 0.0000 0.2706 1253.75 1255.66)" font-family='"Liberation Serif", serif' font-weight="bold" font-size="100" fill="#000">3500</text>
<text transform="matrix(0.2825 0.0000 0.0000 0.2706 1376.25 1255.66)" font-family='"Liberation Serif", serif' font-weight="bold" font-size="100" fill="#000">3000</text>
<text transform="matrix(0.2839 0.0000 0.0000 0.2706 1498.16 1255.66)" font-family='"Liberation Serif", serif' font-weight="bold" font-size="100" fill="#000">2500</text>
<text transform="matrix(0.2839 0.0000 0.0000 0.2706 1620.46 1255.66)" font-family='"Liberation Serif", serif' font-weight="bold" font-size="100" fill="#000">2000</text>
<text transform="matrix(0.2899 0.0000 0.0000 0.2706 1741.28 1255.66)" font-family='"Liberation Serif", serif' font-weight="bold" font-size="100" fill="#000">1500</text>
<text transform="matrix(0.2899 0.0000 0.0000 0.2706 1863.28 1255.66)" font-family='"Liberation Serif", serif' font-weight="bold" font-size="100" fill="#000">1000</text>
<clipPath id="clipd"><rect x="1161" y="562.5" width="831.7" height="656.5"/></clipPath>
<path d="M1161.0 1044.8 C1166.2 1044.8 1191.7 1044.8 1200.0 1045.0 C1208.3 1045.2 1217.7 1046.3 1223.0 1046.3 C1228.3 1046.3 1229.7 1045.5 1240.0 1045.2 C1250.3 1044.9 1284.0 1044.4 1300.0 1044.2 C1316.0 1044.0 1346.7 1043.4 1360.0 1043.6 C1373.3 1043.8 1392.8 1044.6 1399.5 1045.5 C1406.2 1046.4 1407.6 1050.2 1410.3 1050.3 C1413.0 1050.4 1410.5 1047.0 1419.8 1046.0 C1429.1 1045.0 1461.8 1043.5 1479.7 1043.1 C1497.6 1042.7 1543.1 1042.9 1553.9 1043.1 C1564.7 1043.3 1558.5 1044.6 1561.0 1044.8 C1563.5 1045.0 1570.1 1045.0 1573.0 1044.8 C1575.9 1044.6 1570.1 1043.3 1582.6 1043.1 C1595.1 1042.9 1653.4 1042.9 1666.4 1043.1 C1679.4 1043.3 1677.3 1044.1 1680.0 1044.8 C1682.7 1045.5 1685.1 1045.0 1687.0 1048.4 C1688.9 1051.8 1692.5 1069.5 1694.4 1070.0 C1696.3 1070.5 1699.6 1054.4 1701.5 1052.0 C1703.4 1049.6 1705.5 1053.0 1708.7 1052.0 C1711.9 1051.0 1717.2 1045.8 1725.5 1044.8 C1733.8 1043.8 1760.8 1044.5 1771.0 1044.8 C1781.2 1045.1 1796.3 1047.2 1802.0 1047.2 C1807.7 1047.2 1808.6 1044.4 1814.0 1044.8 C1819.4 1045.2 1837.1 1050.1 1842.8 1050.3 C1848.5 1050.5 1853.2 1047.4 1857.0 1046.5 C1860.8 1045.6 1868.4 1041.7 1871.5 1043.6 C1874.6 1045.5 1878.4 1060.1 1880.6 1060.4 C1882.8 1060.7 1884.8 1048.3 1888.2 1046.0 C1891.6 1043.7 1902.5 1041.7 1906.2 1043.0 C1909.9 1044.3 1913.4 1055.4 1915.8 1055.6 C1918.2 1055.8 1916.5 1045.8 1924.0 1044.3 C1931.5 1042.8 1964.3 1044.6 1972.0 1044.3 C1979.7 1044.0 1979.0 1042.5 1981.6 1042.4 C1984.2 1042.3 1989.9 1043.4 1991.2 1043.6" fill="none" stroke="#4a4a4a" stroke-width="2.8" stroke-linejoin="round" stroke-linecap="round" clip-path="url(#clipd)"/>
<path d="M1161.0 782.9 C1168.3 782.7 1207.1 781.4 1215.4 781.7 C1223.7 782.0 1220.7 785.3 1223.0 785.5 C1225.3 785.7 1229.8 782.9 1232.3 782.9 C1234.8 782.9 1238.4 785.3 1241.6 785.5 C1244.8 785.7 1253.7 783.5 1256.6 784.2 C1259.5 784.9 1261.3 790.7 1263.0 790.7 C1264.7 790.7 1264.8 785.3 1269.7 784.2 C1274.6 783.1 1286.9 782.6 1299.6 782.3 C1312.3 782.0 1355.0 781.9 1365.0 782.3 C1375.0 782.7 1372.1 783.8 1374.4 785.1 C1376.7 786.4 1380.0 791.0 1381.9 791.7 C1383.8 792.4 1387.1 786.0 1389.0 790.4 C1390.9 794.8 1394.4 821.5 1396.0 824.6 C1397.6 827.7 1399.8 814.1 1400.7 813.9 C1401.6 813.7 1401.7 808.3 1403.0 823.4 C1404.3 838.5 1408.5 919.5 1410.3 926.8 C1412.1 934.1 1414.6 884.9 1416.2 878.5 C1417.8 872.1 1420.6 881.7 1422.2 878.5 C1423.8 875.3 1426.3 861.9 1428.2 854.6 C1430.1 847.3 1434.5 830.4 1436.6 823.4 C1438.7 816.4 1441.9 806.2 1443.8 801.9 C1445.7 797.6 1447.8 792.9 1451.0 791.1 C1454.2 789.3 1462.3 789.4 1467.7 788.3 C1473.1 787.2 1485.2 783.9 1491.6 782.8 C1498.0 781.7 1507.8 780.7 1515.6 780.4 C1523.4 780.1 1544.2 779.0 1550.3 780.4 C1556.4 781.8 1558.6 789.9 1561.0 791.0 C1563.4 792.1 1566.6 788.8 1568.2 788.7 C1569.8 788.6 1571.2 790.6 1573.0 790.0 C1574.8 789.4 1577.9 785.2 1581.4 784.0 C1584.9 782.8 1593.7 780.9 1599.3 780.8 C1604.9 780.7 1614.4 782.9 1623.3 783.2 C1632.2 783.5 1658.8 781.5 1666.4 783.2 C1674.0 784.9 1677.4 794.2 1680.0 796.0 C1682.6 797.8 1684.6 793.3 1686.0 797.0 C1687.4 800.7 1689.6 813.8 1690.8 823.4 C1692.0 833.0 1693.4 866.1 1694.8 869.0 C1696.2 871.9 1700.3 844.7 1701.5 845.0 C1702.7 845.3 1703.0 860.0 1704.0 871.3 C1705.0 882.6 1707.4 930.0 1708.7 930.0 C1710.0 930.0 1712.4 884.6 1713.5 871.3 C1714.6 858.0 1715.9 839.4 1717.0 830.6 C1718.1 821.8 1720.4 809.5 1721.9 805.5 C1723.4 801.5 1725.8 802.6 1727.9 800.7 C1730.0 798.8 1734.5 792.7 1737.4 791.0 C1740.3 789.3 1746.2 788.6 1749.4 788.3 C1752.6 788.0 1758.8 788.0 1761.4 788.7 C1764.0 789.4 1766.9 790.8 1768.6 793.5 C1770.3 796.2 1773.1 806.0 1774.5 809.0 C1775.9 812.0 1777.9 815.3 1779.3 816.3 C1780.7 817.3 1783.8 817.0 1785.3 816.3 C1786.8 815.6 1789.3 808.9 1790.6 810.8 C1791.9 812.7 1793.8 824.8 1794.9 830.6 C1796.0 836.4 1797.6 850.5 1798.5 854.6 C1799.4 858.7 1801.0 862.0 1802.0 861.7 C1803.0 861.4 1804.6 857.0 1805.7 852.2 C1806.8 847.4 1809.1 830.1 1810.4 825.8 C1811.7 821.5 1813.9 819.6 1815.2 819.9 C1816.5 820.2 1818.9 822.9 1820.0 828.2 C1821.1 833.5 1822.8 852.8 1823.6 859.3 C1824.4 865.8 1825.0 875.7 1826.0 877.3 C1827.0 878.9 1829.5 872.1 1830.8 871.3 C1832.1 870.5 1834.0 871.8 1835.6 871.3 C1837.2 870.8 1841.4 867.4 1842.8 867.7 C1844.2 868.0 1845.3 869.1 1846.3 873.7 C1847.3 878.3 1849.0 894.7 1850.0 902.4 C1851.0 910.1 1852.9 931.5 1854.0 931.5 C1855.1 931.5 1856.9 912.0 1858.3 902.4 C1859.7 892.8 1862.9 869.5 1864.3 859.3 C1865.7 849.1 1867.9 831.7 1869.0 825.8 C1870.1 819.9 1871.7 815.0 1872.7 815.0 C1873.7 815.0 1875.2 820.4 1876.3 825.8 C1877.4 831.2 1879.6 852.9 1880.6 855.8 C1881.6 858.7 1882.6 850.6 1883.5 847.4 C1884.4 844.2 1885.6 832.8 1887.0 831.8 C1888.4 830.8 1892.4 841.3 1894.2 840.2 C1896.0 839.1 1898.4 828.8 1900.2 823.4 C1902.0 818.0 1905.8 800.4 1907.4 799.5 C1909.0 798.6 1911.1 811.8 1912.2 816.3 C1913.3 820.8 1914.9 832.4 1915.8 833.0 C1916.7 833.6 1918.2 825.1 1919.3 821.0 C1920.4 816.9 1922.1 806.2 1924.0 801.9 C1925.9 797.6 1930.6 790.9 1933.7 788.7 C1936.8 786.5 1944.0 785.6 1946.9 785.6 C1949.8 785.6 1953.3 785.6 1955.2 788.7 C1957.1 791.8 1959.8 808.7 1961.2 809.0 C1962.6 809.3 1964.2 793.3 1966.0 791.0 C1967.8 788.7 1972.0 792.0 1974.4 791.9 C1976.8 791.8 1981.8 790.2 1984.0 790.4 C1986.2 790.6 1990.2 793.1 1991.2 793.5" fill="none" stroke="#ff3838" stroke-width="3.3" stroke-linejoin="round" stroke-linecap="round" clip-path="url(#clipd)"/>
<path d="M1161.0 649.6 C1168.2 649.6 1206.7 649.1 1215.0 649.3 C1223.3 649.5 1220.7 651.0 1223.0 651.0 C1225.3 651.0 1221.7 649.8 1232.0 649.5 C1242.3 649.2 1282.9 648.8 1300.0 648.8 C1317.1 648.8 1347.9 649.0 1360.0 649.2 C1372.1 649.4 1385.7 649.6 1391.0 650.0 C1396.3 650.4 1397.9 652.0 1399.5 652.3 C1401.1 652.6 1401.6 651.0 1403.0 652.3 C1404.4 653.6 1408.1 661.4 1410.3 661.9 C1412.5 662.4 1416.9 657.3 1419.8 656.0 C1422.7 654.7 1429.2 653.2 1431.8 652.3 C1434.4 651.4 1435.8 649.7 1439.0 649.2 C1442.2 648.7 1441.0 648.4 1455.7 648.2 C1470.4 648.0 1535.9 647.1 1549.0 647.5 C1562.1 647.9 1552.3 649.4 1553.9 651.0 C1555.5 652.6 1559.1 658.7 1561.0 659.5 C1562.9 660.3 1566.6 657.2 1568.2 657.0 C1569.8 656.8 1571.4 658.7 1573.0 657.8 C1574.6 656.9 1578.3 651.4 1580.2 650.0 C1582.1 648.6 1575.9 647.8 1587.4 647.5 C1598.9 647.2 1654.1 647.2 1666.4 647.5 C1678.7 647.8 1677.3 649.4 1680.0 650.0 C1682.7 650.6 1685.1 650.7 1687.0 652.3 C1688.9 653.9 1692.5 661.6 1694.4 661.9 C1696.3 662.2 1699.6 654.4 1701.5 654.7 C1703.4 655.0 1706.8 664.0 1708.7 664.3 C1710.6 664.6 1713.3 658.8 1715.9 657.0 C1718.5 655.2 1724.1 651.9 1727.9 651.0 C1731.7 650.1 1740.9 650.0 1744.6 650.0 C1748.3 650.0 1752.5 650.9 1756.0 651.0 C1759.5 651.1 1767.7 650.2 1771.0 650.4 C1774.3 650.6 1778.0 652.6 1780.5 652.8 C1783.0 653.0 1787.4 651.0 1790.0 651.6 C1792.6 652.2 1797.2 656.9 1799.7 657.0 C1802.2 657.1 1806.6 652.9 1809.0 652.3 C1811.4 651.7 1815.3 651.8 1817.6 652.8 C1819.9 653.8 1822.6 658.8 1826.0 659.5 C1829.4 660.2 1839.1 657.4 1842.8 658.3 C1846.5 659.2 1851.1 666.5 1854.0 666.0 C1856.9 665.5 1861.8 656.8 1864.3 654.7 C1866.8 652.6 1870.5 650.1 1872.7 650.6 C1874.9 651.1 1878.9 657.9 1881.0 658.3 C1883.1 658.7 1886.3 654.1 1888.2 653.5 C1890.1 652.9 1893.0 654.0 1895.4 653.5 C1897.8 653.0 1903.5 649.7 1906.2 650.0 C1908.9 650.3 1913.4 655.9 1915.8 656.0 C1918.2 656.1 1919.1 651.4 1924.0 650.6 C1928.9 649.8 1947.9 649.6 1952.9 650.0 C1957.9 650.4 1959.3 653.4 1961.2 653.5 C1963.1 653.6 1964.8 651.4 1967.2 651.0 C1969.6 650.6 1976.0 650.9 1979.2 650.6 C1982.4 650.3 1989.6 649.0 1991.2 648.7" fill="none" stroke="#2878ea" stroke-width="3.6" stroke-linejoin="round" stroke-linecap="round" clip-path="url(#clipd)"/>
<text transform="matrix(0.3463 0.0000 0.0000 0.3197 1173.86 637.66)" font-family='"Liberation Serif", serif' font-weight="bold" font-size="100" fill="#000">39.32min</text>
<text transform="matrix(0.3463 0.0000 0.0000 0.3127 1173.86 771.77)" font-family='"Liberation Serif", serif' font-weight="bold" font-size="100" fill="#000">33.36min</text>
<text transform="matrix(0.3457 0.0000 0.0000 0.3056 1174.22 1032.99)" font-family='"Liberation Serif", serif' font-weight="bold" font-size="100" fill="#000">29.28min</text>
<text transform="matrix(0.0000 -0.3047 0.3162 0.0000 1566.97 765.42)" font-family='"Liberation Serif", serif' font-weight="normal" font-size="100" fill="#000" stroke="#000" stroke-width="2.2">2355.28</text>
<text transform="matrix(0.0000 -0.3044 0.3338 0.0000 1423.33 1034.62)" font-family='"Liberation Serif", serif' font-weight="bold" font-size="100" fill="#000">2974.58</text>
<text transform="matrix(0.0000 -0.3000 0.3030 0.0000 1724.60 1037.00)" font-family='"Liberation Serif", serif' font-weight="bold" font-size="100" fill="#000">1751.17</text>
<text transform="matrix(0.0000 -0.3047 0.3353 0.0000 1870.23 1036.84)" font-family='"Liberation Serif", serif' font-weight="bold" font-size="100" fill="#000">1155.37</text>
<text transform="matrix(0.0000 -0.3038 0.3529 0.0000 1708.69 1174.73)" font-family='"Liberation Serif", serif' font-weight="bold" font-size="100" fill="#000">1809.86</text>
<text transform="matrix(0.0000 -0.3016 0.3338 0.0000 1892.93 1168.71)" font-family='"Liberation Serif", serif' font-weight="bold" font-size="100" fill="#000">1044.18</text>
<text transform="matrix(0.0000 -0.3011 0.3515 0.0000 1932.40 1145.30)" font-family='"Liberation Serif", serif' font-weight="bold" font-size="100" fill="#000">907.75</text>
<text transform="matrix(0.7470 0.0000 0.0000 0.7196 1022.31 609.97)" font-family='"Liberation Serif", serif' font-weight="bold" font-size="100" fill="#000">(d)</text>
<text transform="matrix(0.0000 -0.3438 0.3272 0.0000 1064.80 1015.24)" font-family='"Liberation Serif", serif' font-weight="bold" font-size="100" fill="#000">Transmittance (%)</text>
<text transform="translate(1426.75 1313.80) rotate(0) scale(0.3531)" font-family='"Liberation Serif", serif' font-weight="bold" font-size="100" fill="#000">Wavenumber (cm<tspan font-size="60" dy="-38">-1</tspan><tspan dy="38">)</tspan></text>
</g>
</svg>
</body></html>
